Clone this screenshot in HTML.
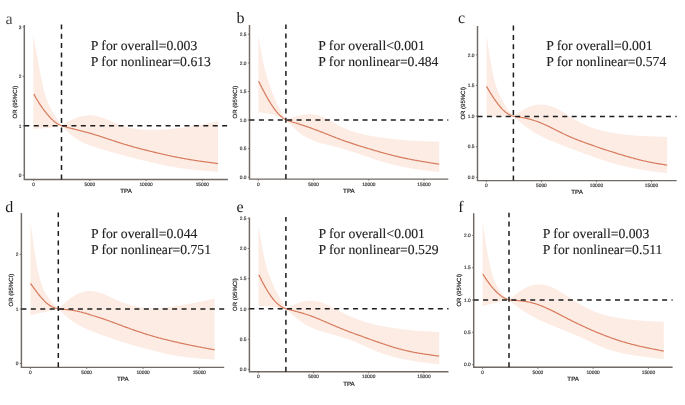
<!DOCTYPE html>
<html><head><meta charset="utf-8"><style>
html,body{margin:0;padding:0;background:#fff;}
svg{display:block;will-change:transform;}
.ser{font-family:"Liberation Serif",serif;text-rendering:geometricPrecision;}
.san{font-family:"Liberation Sans",sans-serif;text-rendering:geometricPrecision;}
</style></head><body>
<svg width="685" height="405" viewBox="0 0 685 405">
<rect width="685" height="405" fill="#fff"/>
<g>
<polygon points="33.3,34.0 34.0,38.5 34.8,42.9 35.5,47.2 36.3,51.5 37.0,55.8 37.8,59.9 38.5,64.0 39.3,68.0 40.0,71.9 40.8,75.7 41.5,79.4 42.3,82.9 43.0,86.3 43.8,89.5 44.5,92.4 45.3,95.1 46.0,97.4 46.8,99.6 47.5,101.6 48.3,103.4 49.0,105.0 49.8,106.6 50.5,108.0 51.3,109.4 52.0,110.7 52.8,112.0 53.5,113.2 54.3,114.5 55.0,115.7 55.8,116.9 56.5,118.1 57.3,119.2 58.0,120.4 58.8,121.6 59.5,122.7 60.3,123.9 61.0,125.0 61.5,125.7 62.2,125.2 63.0,124.7 63.8,124.3 64.5,123.8 65.2,123.4 66.0,123.0 66.8,122.5 67.5,122.1 68.2,121.7 69.0,121.3 69.8,120.9 70.5,120.5 71.2,120.1 72.0,119.8 72.8,119.4 73.5,119.1 74.2,118.8 75.0,118.5 75.8,118.1 76.5,117.9 77.2,117.6 78.0,117.3 78.8,117.1 79.5,116.9 80.2,116.6 81.0,116.4 81.8,116.3 82.5,116.1 83.2,115.9 84.0,115.8 84.8,115.7 85.5,115.6 86.2,115.5 87.0,115.4 87.8,115.4 88.5,115.3 89.2,115.3 90.0,115.3 90.8,115.4 91.5,115.4 92.2,115.5 93.0,115.5 93.8,115.6 94.5,115.7 95.2,115.8 96.0,116.0 96.8,116.1 97.5,116.3 98.2,116.5 99.0,116.7 99.8,116.9 100.5,117.1 101.2,117.4 102.0,117.6 102.8,117.9 103.5,118.1 104.2,118.4 105.0,118.7 105.8,119.0 106.5,119.3 107.2,119.6 108.0,119.9 108.8,120.2 109.5,120.6 110.2,120.9 111.0,121.2 111.8,121.5 112.5,121.8 113.2,122.2 114.0,122.5 114.8,122.8 115.5,123.1 116.2,123.4 117.0,123.7 117.8,124.0 118.5,124.3 119.2,124.6 120.0,124.9 120.8,125.2 121.5,125.4 122.2,125.7 123.0,125.9 123.8,126.2 124.5,126.4 125.2,126.6 126.0,126.9 126.8,127.1 127.5,127.3 128.2,127.5 129.0,127.7 129.8,127.8 130.5,128.0 131.2,128.2 132.0,128.3 132.8,128.4 133.5,128.6 134.2,128.7 135.0,128.8 135.8,128.9 136.5,129.0 137.2,129.1 138.0,129.2 138.8,129.3 139.5,129.4 140.2,129.5 141.0,129.5 141.8,129.6 142.5,129.6 143.2,129.7 144.0,129.7 144.8,129.7 145.5,129.8 146.2,129.8 147.0,129.8 147.8,129.8 148.5,129.8 149.2,129.8 150.0,129.8 150.8,129.8 151.5,129.8 152.2,129.8 153.0,129.8 153.8,129.8 154.5,129.8 155.2,129.8 156.0,129.8 156.8,129.8 157.5,129.7 158.2,129.7 159.0,129.7 159.8,129.6 160.5,129.6 161.2,129.6 162.0,129.5 162.8,129.5 163.5,129.5 164.2,129.4 165.0,129.4 165.8,129.3 166.5,129.3 167.2,129.2 168.0,129.2 168.8,129.1 169.5,129.0 170.2,129.0 171.0,128.9 171.8,128.8 172.5,128.8 173.2,128.7 174.0,128.6 174.8,128.6 175.5,128.5 176.2,128.4 177.0,128.3 177.8,128.2 178.5,128.1 179.2,128.0 180.0,128.0 180.8,127.9 181.5,127.8 182.2,127.7 183.0,127.6 183.8,127.5 184.5,127.4 185.2,127.3 186.0,127.2 186.8,127.0 187.5,126.9 188.2,126.8 189.0,126.7 189.8,126.6 190.5,126.5 191.2,126.4 192.0,126.2 192.8,126.1 193.5,126.0 194.2,125.9 195.0,125.7 195.8,125.6 196.5,125.5 197.2,125.3 198.0,125.2 198.8,125.1 199.5,124.9 200.2,124.8 201.0,124.7 201.8,124.5 202.5,124.4 203.2,124.2 204.0,124.1 204.8,123.9 205.5,123.8 206.2,123.6 207.0,123.5 207.8,123.3 208.5,123.2 209.2,123.0 210.0,122.9 210.8,122.7 211.5,122.5 212.2,122.4 213.0,122.2 213.8,122.0 214.5,121.9 215.2,121.7 216.0,121.6 216.8,121.4 217.5,121.2 218.0,121.1 218.0,171.8 217.5,171.8 216.8,171.7 216.0,171.7 215.2,171.6 214.5,171.6 213.8,171.5 213.0,171.5 212.2,171.4 211.5,171.3 210.8,171.3 210.0,171.2 209.2,171.2 208.5,171.1 207.8,171.1 207.0,171.0 206.2,171.0 205.5,170.9 204.8,170.8 204.0,170.8 203.2,170.7 202.5,170.6 201.8,170.6 201.0,170.5 200.2,170.4 199.5,170.4 198.8,170.3 198.0,170.2 197.2,170.2 196.5,170.1 195.8,170.0 195.0,169.9 194.2,169.9 193.5,169.8 192.8,169.7 192.0,169.6 191.2,169.5 190.5,169.4 189.8,169.4 189.0,169.3 188.2,169.2 187.5,169.1 186.8,169.0 186.0,168.9 185.2,168.8 184.5,168.7 183.8,168.6 183.0,168.5 182.2,168.4 181.5,168.3 180.8,168.2 180.0,168.1 179.2,167.9 178.5,167.8 177.8,167.7 177.0,167.6 176.2,167.5 175.5,167.3 174.8,167.2 174.0,167.1 173.2,167.0 172.5,166.8 171.8,166.7 171.0,166.6 170.2,166.4 169.5,166.3 168.8,166.1 168.0,166.0 167.2,165.9 166.5,165.7 165.8,165.6 165.0,165.4 164.2,165.3 163.5,165.1 162.8,164.9 162.0,164.8 161.2,164.6 160.5,164.5 159.8,164.3 159.0,164.1 158.2,164.0 157.5,163.8 156.8,163.6 156.0,163.5 155.2,163.3 154.5,163.1 153.8,162.9 153.0,162.8 152.2,162.6 151.5,162.4 150.8,162.2 150.0,162.1 149.2,161.9 148.5,161.7 147.8,161.5 147.0,161.3 146.2,161.1 145.5,161.0 144.8,160.8 144.0,160.6 143.2,160.4 142.5,160.2 141.8,160.0 141.0,159.9 140.2,159.7 139.5,159.5 138.8,159.3 138.0,159.1 137.2,158.9 136.5,158.7 135.8,158.5 135.0,158.3 134.2,158.1 133.5,158.0 132.8,157.8 132.0,157.6 131.2,157.4 130.5,157.2 129.8,157.0 129.0,156.8 128.2,156.6 127.5,156.4 126.8,156.2 126.0,156.0 125.2,155.8 124.5,155.6 123.8,155.4 123.0,155.2 122.2,155.0 121.5,154.8 120.8,154.6 120.0,154.4 119.2,154.2 118.5,154.0 117.8,153.8 117.0,153.6 116.2,153.4 115.5,153.1 114.8,152.9 114.0,152.7 113.2,152.5 112.5,152.3 111.8,152.1 111.0,151.9 110.2,151.7 109.5,151.4 108.8,151.2 108.0,151.0 107.2,150.8 106.5,150.6 105.8,150.4 105.0,150.1 104.2,149.9 103.5,149.7 102.8,149.5 102.0,149.3 101.2,149.0 100.5,148.8 99.8,148.6 99.0,148.4 98.2,148.1 97.5,147.9 96.8,147.7 96.0,147.4 95.2,147.2 94.5,147.0 93.8,146.7 93.0,146.5 92.2,146.2 91.5,146.0 90.8,145.7 90.0,145.5 89.2,145.2 88.5,144.9 87.8,144.6 87.0,144.3 86.2,144.0 85.5,143.7 84.8,143.4 84.0,143.1 83.2,142.7 82.5,142.4 81.8,142.0 81.0,141.6 80.2,141.2 79.5,140.8 78.8,140.4 78.0,139.9 77.2,139.5 76.5,139.0 75.8,138.5 75.0,138.0 74.2,137.5 73.5,136.9 72.8,136.3 72.0,135.8 71.2,135.1 70.5,134.5 69.8,133.9 69.0,133.2 68.2,132.5 67.5,131.8 66.8,131.1 66.0,130.4 65.2,129.6 64.5,128.9 63.8,128.1 63.0,127.4 62.2,126.6 61.5,125.7 61.0,125.8 60.3,126.0 59.5,126.2 58.8,126.4 58.0,126.6 57.3,126.8 56.5,126.9 55.8,127.1 55.0,127.2 54.3,127.3 53.5,127.4 52.8,127.5 52.0,127.6 51.3,127.7 50.5,127.8 49.8,127.9 49.0,128.0 48.3,128.1 47.5,128.1 46.8,128.2 46.0,128.2 45.3,128.3 44.5,128.3 43.8,128.4 43.0,128.4 42.3,128.4 41.5,128.5 40.8,128.5 40.0,128.5 39.3,128.6 38.5,128.6 37.8,128.6 37.0,128.7 36.3,128.7 35.5,128.7 34.8,128.7 34.0,128.8 33.3,128.8" fill="#fdece4"/>
<polyline points="33.8,94.1 34.5,95.4 35.3,96.7 36.0,98.0 36.8,99.2 37.5,100.5 38.3,101.7 39.0,102.9 39.8,104.1 40.5,105.2 41.3,106.3 42.0,107.4 42.8,108.5 43.5,109.5 44.3,110.5 45.0,111.5 45.8,112.4 46.5,113.4 47.3,114.3 48.0,115.1 48.8,116.0 49.5,116.8 50.3,117.7 51.0,118.5 51.8,119.2 52.5,119.9 53.3,120.6 54.0,121.3 54.8,121.9 55.5,122.5 56.3,123.0 57.0,123.5 57.8,123.9 58.5,124.3 59.3,124.7 60.0,125.0 60.8,125.3 61.5,125.6 62.2,125.9 63.0,126.1 63.8,126.3 64.5,126.5 65.2,126.7 66.0,126.9 66.8,127.2 67.5,127.4 68.2,127.6 69.0,127.8 69.8,128.0 70.5,128.2 71.2,128.4 72.0,128.6 72.8,128.7 73.5,128.9 74.2,129.1 75.0,129.3 75.8,129.5 76.5,129.7 77.2,129.9 78.0,130.1 78.8,130.3 79.5,130.5 80.2,130.7 81.0,130.8 81.8,131.0 82.5,131.2 83.2,131.4 84.0,131.6 84.8,131.8 85.5,132.0 86.2,132.2 87.0,132.4 87.8,132.6 88.5,132.8 89.2,133.0 90.0,133.2 90.8,133.4 91.5,133.7 92.2,133.9 93.0,134.1 93.8,134.3 94.5,134.6 95.2,134.8 96.0,135.0 96.8,135.3 97.5,135.5 98.2,135.7 99.0,136.0 99.8,136.2 100.5,136.5 101.2,136.7 102.0,137.0 102.8,137.2 103.5,137.5 104.2,137.7 105.0,138.0 105.8,138.2 106.5,138.5 107.2,138.7 108.0,139.0 108.8,139.2 109.5,139.5 110.2,139.7 111.0,140.0 111.8,140.2 112.5,140.5 113.2,140.7 114.0,140.9 114.8,141.2 115.5,141.4 116.2,141.7 117.0,141.9 117.8,142.2 118.5,142.4 119.2,142.6 120.0,142.9 120.8,143.1 121.5,143.3 122.2,143.6 123.0,143.8 123.8,144.0 124.5,144.3 125.2,144.5 126.0,144.7 126.8,144.9 127.5,145.2 128.2,145.4 129.0,145.6 129.8,145.8 130.5,146.0 131.2,146.2 132.0,146.5 132.8,146.7 133.5,146.9 134.2,147.1 135.0,147.3 135.8,147.5 136.5,147.7 137.2,147.9 138.0,148.1 138.8,148.3 139.5,148.5 140.2,148.7 141.0,148.9 141.8,149.1 142.5,149.3 143.2,149.5 144.0,149.7 144.8,149.9 145.5,150.1 146.2,150.2 147.0,150.4 147.8,150.6 148.5,150.8 149.2,151.0 150.0,151.2 150.8,151.3 151.5,151.5 152.2,151.7 153.0,151.9 153.8,152.1 154.5,152.3 155.2,152.4 156.0,152.6 156.8,152.8 157.5,153.0 158.2,153.1 159.0,153.3 159.8,153.5 160.5,153.7 161.2,153.8 162.0,154.0 162.8,154.2 163.5,154.4 164.2,154.5 165.0,154.7 165.8,154.9 166.5,155.0 167.2,155.2 168.0,155.4 168.8,155.5 169.5,155.7 170.2,155.8 171.0,156.0 171.8,156.2 172.5,156.3 173.2,156.5 174.0,156.6 174.8,156.8 175.5,156.9 176.2,157.1 177.0,157.2 177.8,157.4 178.5,157.5 179.2,157.7 180.0,157.8 180.8,157.9 181.5,158.1 182.2,158.2 183.0,158.4 183.8,158.5 184.5,158.6 185.2,158.8 186.0,158.9 186.8,159.0 187.5,159.2 188.2,159.3 189.0,159.4 189.8,159.6 190.5,159.7 191.2,159.8 192.0,159.9 192.8,160.0 193.5,160.2 194.2,160.3 195.0,160.4 195.8,160.5 196.5,160.6 197.2,160.7 198.0,160.9 198.8,161.0 199.5,161.1 200.2,161.2 201.0,161.3 201.8,161.4 202.5,161.5 203.2,161.6 204.0,161.7 204.8,161.8 205.5,161.9 206.2,162.0 207.0,162.1 207.8,162.2 208.5,162.3 209.2,162.4 210.0,162.5 210.8,162.6 211.5,162.7 212.2,162.8 213.0,162.9 213.8,163.0 214.5,163.1 215.2,163.2 216.0,163.3 216.8,163.4 217.5,163.5 218.0,163.6" fill="none" stroke="#d77c5e" stroke-width="1.25" stroke-linejoin="round"/>
<path d="M24.3,25.0 V179.4 H227.9" fill="none" stroke="#706a66" stroke-width="1.45"/>
<line x1="22.7" y1="175.2" x2="24.3" y2="175.2" stroke="#706a66" stroke-width="0.9"/>
<text class="san" transform="translate(21.30,176.90) scale(0.25)" text-anchor="end" font-size="19.2" fill="#3a3a3a" stroke="#3a3a3a" stroke-width="0.7">0</text>
<line x1="22.7" y1="125.8" x2="24.3" y2="125.8" stroke="#706a66" stroke-width="0.9"/>
<text class="san" transform="translate(21.30,127.50) scale(0.25)" text-anchor="end" font-size="19.2" fill="#3a3a3a" stroke="#3a3a3a" stroke-width="0.7">1</text>
<line x1="22.7" y1="76.4" x2="24.3" y2="76.4" stroke="#706a66" stroke-width="0.9"/>
<text class="san" transform="translate(21.30,78.10) scale(0.25)" text-anchor="end" font-size="19.2" fill="#3a3a3a" stroke="#3a3a3a" stroke-width="0.7">2</text>
<line x1="22.7" y1="27.0" x2="24.3" y2="27.0" stroke="#706a66" stroke-width="0.9"/>
<text class="san" transform="translate(21.30,28.70) scale(0.25)" text-anchor="end" font-size="19.2" fill="#3a3a3a" stroke="#3a3a3a" stroke-width="0.7">3</text>
<line x1="33.6" y1="179.4" x2="33.6" y2="181.0" stroke="#706a66" stroke-width="0.9"/>
<text class="san" transform="translate(33.60,185.80) scale(0.25)" text-anchor="middle" font-size="19.2" fill="#3a3a3a" stroke="#3a3a3a" stroke-width="0.7">0</text>
<line x1="89.85" y1="179.4" x2="89.85" y2="181.0" stroke="#706a66" stroke-width="0.9"/>
<text class="san" transform="translate(89.85,185.80) scale(0.25)" text-anchor="middle" font-size="19.2" fill="#3a3a3a" stroke="#3a3a3a" stroke-width="0.7">5000</text>
<line x1="146.1" y1="179.4" x2="146.1" y2="181.0" stroke="#706a66" stroke-width="0.9"/>
<text class="san" transform="translate(146.10,185.80) scale(0.25)" text-anchor="middle" font-size="19.2" fill="#3a3a3a" stroke="#3a3a3a" stroke-width="0.7">10000</text>
<line x1="202.35" y1="179.4" x2="202.35" y2="181.0" stroke="#706a66" stroke-width="0.9"/>
<text class="san" transform="translate(202.35,185.80) scale(0.25)" text-anchor="middle" font-size="19.2" fill="#3a3a3a" stroke="#3a3a3a" stroke-width="0.7">15000</text>
<line x1="24.3" y1="125.7" x2="227.9" y2="125.7" stroke="#1c1c1c" stroke-width="1.5" stroke-dasharray="5.0 4.42"/>
<line x1="61.5" y1="179.4" x2="61.5" y2="24.5" stroke="#1c1c1c" stroke-width="1.5" stroke-dasharray="5.0 4.38"/>
<text class="san" x="126.10" y="193.2" text-anchor="middle" font-size="6.2" fill="#1a1a1a" stroke="#1a1a1a" stroke-width="0.2">TPA</text>
<text class="san" transform="translate(17.1,102.20) rotate(-90)" text-anchor="middle" font-size="6.0" fill="#1a1a1a" stroke="#1a1a1a" stroke-width="0.15">OR (95%CI)</text>
<text class="ser" x="5.5" y="24.4" font-size="16" fill="#505050">a</text>
<text class="ser" x="90.8" y="49.6" font-size="13.7" fill="#222" stroke="#222" stroke-width="0.12">P for overall=0.003</text>
<text class="ser" x="90.8" y="65.9" font-size="13.7" fill="#222" stroke="#222" stroke-width="0.12">P for nonlinear=0.613</text>
<polygon points="258.4,35.4 259.1,40.0 259.9,44.6 260.6,49.1 261.4,53.3 262.1,57.2 262.9,60.9 263.6,64.2 264.4,67.4 265.1,70.3 265.9,73.1 266.6,75.7 267.4,78.2 268.1,80.6 268.9,82.9 269.6,85.1 270.4,87.3 271.1,89.4 271.9,91.4 272.6,93.4 273.4,95.3 274.1,97.1 274.9,98.9 275.6,100.7 276.4,102.4 277.1,104.0 277.9,105.6 278.6,107.1 279.4,108.6 280.1,110.0 280.9,111.4 281.6,112.8 282.4,114.1 283.1,115.4 283.9,116.6 284.6,117.9 285.4,119.1 285.9,119.9 286.6,119.6 287.4,119.3 288.1,119.0 288.9,118.7 289.6,118.4 290.4,118.1 291.1,117.9 291.9,117.6 292.6,117.3 293.4,117.1 294.1,116.8 294.9,116.6 295.6,116.4 296.4,116.1 297.1,115.9 297.9,115.7 298.6,115.6 299.4,115.4 300.1,115.2 300.9,115.1 301.6,114.9 302.4,114.8 303.1,114.7 303.9,114.6 304.6,114.5 305.4,114.4 306.1,114.3 306.9,114.3 307.6,114.3 308.4,114.2 309.1,114.2 309.9,114.2 310.6,114.2 311.4,114.3 312.1,114.3 312.9,114.4 313.6,114.5 314.4,114.6 315.1,114.7 315.9,114.9 316.6,115.0 317.4,115.2 318.1,115.4 318.9,115.6 319.6,115.8 320.4,116.1 321.1,116.3 321.9,116.6 322.6,116.9 323.4,117.2 324.1,117.5 324.9,117.9 325.6,118.2 326.4,118.6 327.1,119.0 327.9,119.4 328.6,119.8 329.4,120.2 330.1,120.6 330.9,121.0 331.6,121.4 332.4,121.8 333.1,122.3 333.9,122.7 334.6,123.1 335.4,123.5 336.1,124.0 336.9,124.4 337.6,124.8 338.4,125.2 339.1,125.6 339.9,126.0 340.6,126.4 341.4,126.8 342.1,127.1 342.9,127.5 343.6,127.9 344.4,128.2 345.1,128.6 345.9,128.9 346.6,129.2 347.4,129.5 348.1,129.8 348.9,130.1 349.6,130.4 350.4,130.7 351.1,130.9 351.9,131.2 352.6,131.5 353.4,131.7 354.1,131.9 354.9,132.2 355.6,132.4 356.4,132.6 357.1,132.8 357.9,133.0 358.6,133.2 359.4,133.4 360.1,133.6 360.9,133.8 361.6,134.0 362.4,134.1 363.1,134.3 363.9,134.5 364.6,134.6 365.4,134.8 366.1,134.9 366.9,135.1 367.6,135.2 368.4,135.4 369.1,135.5 369.9,135.7 370.6,135.8 371.4,135.9 372.1,136.1 372.9,136.2 373.6,136.3 374.4,136.4 375.1,136.6 375.9,136.7 376.6,136.8 377.4,136.9 378.1,137.0 378.9,137.1 379.6,137.3 380.4,137.4 381.1,137.5 381.9,137.6 382.6,137.7 383.4,137.8 384.1,137.9 384.9,138.0 385.6,138.1 386.4,138.2 387.1,138.3 387.9,138.4 388.6,138.5 389.4,138.5 390.1,138.6 390.9,138.7 391.6,138.8 392.4,138.9 393.1,139.0 393.9,139.1 394.6,139.1 395.4,139.2 396.1,139.3 396.9,139.4 397.6,139.5 398.4,139.5 399.1,139.6 399.9,139.7 400.6,139.7 401.4,139.8 402.1,139.9 402.9,139.9 403.6,140.0 404.4,140.1 405.1,140.1 405.9,140.2 406.6,140.3 407.4,140.3 408.1,140.4 408.9,140.4 409.6,140.5 410.4,140.5 411.1,140.6 411.9,140.6 412.6,140.7 413.4,140.7 414.1,140.8 414.9,140.8 415.6,140.8 416.4,140.9 417.1,140.9 417.9,141.0 418.6,141.0 419.4,141.0 420.1,141.1 420.9,141.1 421.6,141.1 422.4,141.2 423.1,141.2 423.9,141.2 424.6,141.3 425.4,141.3 426.1,141.3 426.9,141.3 427.6,141.4 428.4,141.4 429.1,141.4 429.9,141.4 430.6,141.5 431.4,141.5 432.1,141.5 432.9,141.5 433.6,141.6 434.4,141.6 435.1,141.6 435.9,141.6 436.6,141.6 437.4,141.7 438.1,141.7 438.9,141.7 439.2,141.7 439.2,172.1 438.9,172.1 438.1,172.0 437.4,171.9 436.6,171.8 435.9,171.7 435.1,171.6 434.4,171.6 433.6,171.5 432.9,171.4 432.1,171.3 431.4,171.2 430.6,171.1 429.9,171.0 429.1,170.9 428.4,170.8 427.6,170.7 426.9,170.6 426.1,170.6 425.4,170.5 424.6,170.4 423.9,170.3 423.1,170.2 422.4,170.1 421.6,170.0 420.9,169.9 420.1,169.7 419.4,169.6 418.6,169.5 417.9,169.4 417.1,169.3 416.4,169.2 415.6,169.1 414.9,169.0 414.1,168.9 413.4,168.7 412.6,168.6 411.9,168.5 411.1,168.4 410.4,168.2 409.6,168.1 408.9,168.0 408.1,167.9 407.4,167.7 406.6,167.6 405.9,167.4 405.1,167.3 404.4,167.2 403.6,167.0 402.9,166.9 402.1,166.7 401.4,166.6 400.6,166.4 399.9,166.3 399.1,166.1 398.4,165.9 397.6,165.8 396.9,165.6 396.1,165.4 395.4,165.2 394.6,165.1 393.9,164.9 393.1,164.7 392.4,164.5 391.6,164.3 390.9,164.1 390.1,163.9 389.4,163.7 388.6,163.5 387.9,163.3 387.1,163.1 386.4,162.9 385.6,162.7 384.9,162.5 384.1,162.3 383.4,162.0 382.6,161.8 381.9,161.6 381.1,161.4 380.4,161.1 379.6,160.9 378.9,160.7 378.1,160.4 377.4,160.2 376.6,159.9 375.9,159.7 375.1,159.4 374.4,159.2 373.6,158.9 372.9,158.7 372.1,158.4 371.4,158.2 370.6,157.9 369.9,157.7 369.1,157.4 368.4,157.1 367.6,156.9 366.9,156.6 366.1,156.4 365.4,156.1 364.6,155.8 363.9,155.6 363.1,155.3 362.4,155.1 361.6,154.8 360.9,154.6 360.1,154.3 359.4,154.1 358.6,153.8 357.9,153.6 357.1,153.3 356.4,153.1 355.6,152.8 354.9,152.6 354.1,152.3 353.4,152.1 352.6,151.9 351.9,151.6 351.1,151.4 350.4,151.2 349.6,150.9 348.9,150.7 348.1,150.4 347.4,150.2 346.6,150.0 345.9,149.7 345.1,149.5 344.4,149.3 343.6,149.1 342.9,148.8 342.1,148.6 341.4,148.4 340.6,148.2 339.9,148.0 339.1,147.8 338.4,147.6 337.6,147.3 336.9,147.1 336.1,146.9 335.4,146.8 334.6,146.6 333.9,146.4 333.1,146.2 332.4,146.0 331.6,145.8 330.9,145.6 330.1,145.4 329.4,145.2 328.6,145.1 327.9,144.9 327.1,144.7 326.4,144.5 325.6,144.3 324.9,144.1 324.1,144.0 323.4,143.8 322.6,143.6 321.9,143.4 321.1,143.2 320.4,142.9 319.6,142.7 318.9,142.5 318.1,142.3 317.4,142.0 316.6,141.8 315.9,141.5 315.1,141.3 314.4,141.0 313.6,140.7 312.9,140.4 312.1,140.1 311.4,139.8 310.6,139.5 309.9,139.1 309.1,138.8 308.4,138.4 307.6,138.0 306.9,137.6 306.1,137.2 305.4,136.8 304.6,136.3 303.9,135.9 303.1,135.4 302.4,134.9 301.6,134.3 300.9,133.8 300.1,133.3 299.4,132.7 298.6,132.1 297.9,131.5 297.1,130.9 296.4,130.2 295.6,129.6 294.9,128.9 294.1,128.2 293.4,127.5 292.6,126.8 291.9,126.1 291.1,125.3 290.4,124.6 289.6,123.8 288.9,123.1 288.1,122.3 287.4,121.5 286.6,120.8 285.9,119.9 285.4,119.7 284.6,119.3 283.9,118.9 283.1,118.6 282.4,118.2 281.6,117.9 280.9,117.5 280.1,117.2 279.4,116.9 278.6,116.6 277.9,116.3 277.1,116.0 276.4,115.7 275.6,115.5 274.9,115.2 274.1,115.0 273.4,114.8 272.6,114.6 271.9,114.4 271.1,114.2 270.4,114.0 269.6,113.9 268.9,113.7 268.1,113.6 267.4,113.5 266.6,113.3 265.9,113.2 265.1,113.1 264.4,113.0 263.6,112.9 262.9,112.8 262.1,112.7 261.4,112.6 260.6,112.5 259.9,112.4 259.1,112.3 258.4,112.2" fill="#fdece4"/>
<polyline points="258.6,81.3 259.4,82.8 260.1,84.3 260.9,85.8 261.6,87.2 262.4,88.7 263.1,90.1 263.9,91.5 264.6,92.9 265.4,94.3 266.1,95.7 266.9,97.0 267.6,98.3 268.4,99.6 269.1,100.9 269.9,102.1 270.6,103.3 271.4,104.5 272.1,105.6 272.9,106.7 273.6,107.8 274.4,108.9 275.1,109.9 275.9,110.9 276.6,111.8 277.4,112.7 278.1,113.6 278.9,114.4 279.6,115.1 280.4,115.8 281.1,116.5 281.9,117.1 282.6,117.7 283.4,118.3 284.1,118.7 284.9,119.2 285.6,119.5 285.9,119.7 286.6,120.0 287.4,120.3 288.1,120.6 288.9,120.8 289.6,121.1 290.4,121.3 291.1,121.5 291.9,121.8 292.6,122.0 293.4,122.3 294.1,122.5 294.9,122.7 295.6,123.0 296.4,123.2 297.1,123.4 297.9,123.7 298.6,123.9 299.4,124.1 300.1,124.4 300.9,124.6 301.6,124.9 302.4,125.1 303.1,125.4 303.9,125.6 304.6,125.9 305.4,126.1 306.1,126.4 306.9,126.6 307.6,126.9 308.4,127.1 309.1,127.4 309.9,127.7 310.6,127.9 311.4,128.2 312.1,128.5 312.9,128.7 313.6,129.0 314.4,129.3 315.1,129.6 315.9,129.8 316.6,130.1 317.4,130.4 318.1,130.7 318.9,131.0 319.6,131.3 320.4,131.6 321.1,131.9 321.9,132.1 322.6,132.4 323.4,132.7 324.1,133.0 324.9,133.3 325.6,133.6 326.4,133.9 327.1,134.2 327.9,134.5 328.6,134.8 329.4,135.1 330.1,135.4 330.9,135.7 331.6,136.0 332.4,136.3 333.1,136.6 333.9,136.9 334.6,137.2 335.4,137.5 336.1,137.8 336.9,138.0 337.6,138.3 338.4,138.6 339.1,138.9 339.9,139.2 340.6,139.5 341.4,139.8 342.1,140.0 342.9,140.3 343.6,140.6 344.4,140.8 345.1,141.1 345.9,141.4 346.6,141.6 347.4,141.9 348.1,142.2 348.9,142.4 349.6,142.7 350.4,142.9 351.1,143.2 351.9,143.4 352.6,143.7 353.4,143.9 354.1,144.2 354.9,144.4 355.6,144.6 356.4,144.9 357.1,145.1 357.9,145.4 358.6,145.6 359.4,145.8 360.1,146.0 360.9,146.3 361.6,146.5 362.4,146.7 363.1,147.0 363.9,147.2 364.6,147.4 365.4,147.6 366.1,147.9 366.9,148.1 367.6,148.3 368.4,148.5 369.1,148.8 369.9,149.0 370.6,149.2 371.4,149.4 372.1,149.7 372.9,149.9 373.6,150.1 374.4,150.3 375.1,150.6 375.9,150.8 376.6,151.0 377.4,151.2 378.1,151.4 378.9,151.6 379.6,151.9 380.4,152.1 381.1,152.3 381.9,152.5 382.6,152.7 383.4,152.9 384.1,153.1 384.9,153.3 385.6,153.5 386.4,153.7 387.1,154.0 387.9,154.2 388.6,154.3 389.4,154.5 390.1,154.7 390.9,154.9 391.6,155.1 392.4,155.3 393.1,155.5 393.9,155.7 394.6,155.9 395.4,156.1 396.1,156.2 396.9,156.4 397.6,156.6 398.4,156.8 399.1,156.9 399.9,157.1 400.6,157.3 401.4,157.4 402.1,157.6 402.9,157.8 403.6,157.9 404.4,158.1 405.1,158.3 405.9,158.4 406.6,158.6 407.4,158.7 408.1,158.9 408.9,159.0 409.6,159.2 410.4,159.3 411.1,159.5 411.9,159.6 412.6,159.8 413.4,159.9 414.1,160.0 414.9,160.2 415.6,160.3 416.4,160.4 417.1,160.6 417.9,160.7 418.6,160.8 419.4,161.0 420.1,161.1 420.9,161.2 421.6,161.4 422.4,161.5 423.1,161.6 423.9,161.7 424.6,161.9 425.4,162.0 426.1,162.1 426.9,162.2 427.6,162.4 428.4,162.5 429.1,162.6 429.9,162.7 430.6,162.9 431.4,163.0 432.1,163.1 432.9,163.2 433.6,163.3 434.4,163.4 435.1,163.6 435.9,163.7 436.6,163.8 437.4,163.9 438.1,164.0 438.9,164.2 439.2,164.2" fill="none" stroke="#d77c5e" stroke-width="1.25" stroke-linejoin="round"/>
<path d="M249.5,25.1 V179.1 H448.3" fill="none" stroke="#706a66" stroke-width="1.45"/>
<line x1="247.9" y1="177.2" x2="249.5" y2="177.2" stroke="#706a66" stroke-width="0.9"/>
<text class="san" transform="translate(246.50,178.90) scale(0.25)" text-anchor="end" font-size="19.2" fill="#3a3a3a" stroke="#3a3a3a" stroke-width="0.7">0.0</text>
<line x1="247.9" y1="148.6" x2="249.5" y2="148.6" stroke="#706a66" stroke-width="0.9"/>
<text class="san" transform="translate(246.50,150.30) scale(0.25)" text-anchor="end" font-size="19.2" fill="#3a3a3a" stroke="#3a3a3a" stroke-width="0.7">0.5</text>
<line x1="247.9" y1="120.0" x2="249.5" y2="120.0" stroke="#706a66" stroke-width="0.9"/>
<text class="san" transform="translate(246.50,121.70) scale(0.25)" text-anchor="end" font-size="19.2" fill="#3a3a3a" stroke="#3a3a3a" stroke-width="0.7">1.0</text>
<line x1="247.9" y1="91.5" x2="249.5" y2="91.5" stroke="#706a66" stroke-width="0.9"/>
<text class="san" transform="translate(246.50,93.20) scale(0.25)" text-anchor="end" font-size="19.2" fill="#3a3a3a" stroke="#3a3a3a" stroke-width="0.7">1.5</text>
<line x1="247.9" y1="62.9" x2="249.5" y2="62.9" stroke="#706a66" stroke-width="0.9"/>
<text class="san" transform="translate(246.50,64.60) scale(0.25)" text-anchor="end" font-size="19.2" fill="#3a3a3a" stroke="#3a3a3a" stroke-width="0.7">2.0</text>
<line x1="247.9" y1="34.3" x2="249.5" y2="34.3" stroke="#706a66" stroke-width="0.9"/>
<text class="san" transform="translate(246.50,36.00) scale(0.25)" text-anchor="end" font-size="19.2" fill="#3a3a3a" stroke="#3a3a3a" stroke-width="0.7">2.5</text>
<line x1="258.3" y1="179.1" x2="258.3" y2="180.7" stroke="#706a66" stroke-width="0.9"/>
<text class="san" transform="translate(258.30,185.50) scale(0.25)" text-anchor="middle" font-size="19.2" fill="#3a3a3a" stroke="#3a3a3a" stroke-width="0.7">0</text>
<line x1="313.5" y1="179.1" x2="313.5" y2="180.7" stroke="#706a66" stroke-width="0.9"/>
<text class="san" transform="translate(313.50,185.50) scale(0.25)" text-anchor="middle" font-size="19.2" fill="#3a3a3a" stroke="#3a3a3a" stroke-width="0.7">5000</text>
<line x1="368.8" y1="179.1" x2="368.8" y2="180.7" stroke="#706a66" stroke-width="0.9"/>
<text class="san" transform="translate(368.80,185.50) scale(0.25)" text-anchor="middle" font-size="19.2" fill="#3a3a3a" stroke="#3a3a3a" stroke-width="0.7">10000</text>
<line x1="424.0" y1="179.1" x2="424.0" y2="180.7" stroke="#706a66" stroke-width="0.9"/>
<text class="san" transform="translate(424.00,185.50) scale(0.25)" text-anchor="middle" font-size="19.2" fill="#3a3a3a" stroke="#3a3a3a" stroke-width="0.7">15000</text>
<line x1="249.5" y1="119.9" x2="448.3" y2="119.9" stroke="#1c1c1c" stroke-width="1.5" stroke-dasharray="5.0 4.42"/>
<line x1="285.9" y1="179.1" x2="285.9" y2="24.6" stroke="#1c1c1c" stroke-width="1.5" stroke-dasharray="5.0 4.38"/>
<text class="san" x="348.90" y="192.8" text-anchor="middle" font-size="6.2" fill="#1a1a1a" stroke="#1a1a1a" stroke-width="0.2">TPA</text>
<text class="san" transform="translate(236.5,102.10) rotate(-90)" text-anchor="middle" font-size="6.0" fill="#1a1a1a" stroke="#1a1a1a" stroke-width="0.15">OR (95%CI)</text>
<text class="ser" x="236.5" y="22.8" font-size="16" fill="#1a1a1a">b</text>
<text class="ser" x="318.3" y="49.6" font-size="13.7" fill="#222" stroke="#222" stroke-width="0.12">P for overall&lt;0.001</text>
<text class="ser" x="318.3" y="65.9" font-size="13.7" fill="#222" stroke="#222" stroke-width="0.12">P for nonlinear=0.484</text>
<polygon points="486.6,35.3 487.4,40.5 488.1,45.5 488.9,50.5 489.6,55.3 490.4,59.9 491.1,64.3 491.9,68.4 492.6,72.2 493.4,75.7 494.1,78.9 494.9,81.8 495.6,84.4 496.4,86.8 497.1,89.0 497.9,91.0 498.6,92.8 499.4,94.5 500.1,96.1 500.9,97.6 501.6,99.1 502.4,100.5 503.1,101.9 503.9,103.2 504.6,104.5 505.4,105.7 506.1,106.9 506.9,108.1 507.6,109.2 508.4,110.3 509.1,111.3 509.9,112.3 510.6,113.2 511.4,114.1 512.1,115.0 512.9,115.8 513.4,116.4 514.1,115.8 514.9,115.3 515.6,114.7 516.4,114.2 517.1,113.7 517.9,113.2 518.6,112.7 519.4,112.2 520.1,111.7 520.9,111.2 521.6,110.7 522.4,110.2 523.1,109.8 523.9,109.4 524.6,109.0 525.4,108.6 526.1,108.2 526.9,107.8 527.6,107.5 528.4,107.2 529.1,106.9 529.9,106.6 530.6,106.3 531.4,106.1 532.1,105.8 532.9,105.6 533.6,105.4 534.4,105.3 535.1,105.1 535.9,105.0 536.6,104.9 537.4,104.8 538.1,104.7 538.9,104.7 539.6,104.6 540.4,104.6 541.1,104.6 541.9,104.7 542.6,104.7 543.4,104.8 544.1,104.8 544.9,104.9 545.6,105.0 546.4,105.2 547.1,105.3 547.9,105.5 548.6,105.7 549.4,105.9 550.1,106.1 550.9,106.3 551.6,106.6 552.4,106.8 553.1,107.1 553.9,107.4 554.6,107.7 555.4,108.0 556.1,108.4 556.9,108.7 557.6,109.1 558.4,109.5 559.1,109.9 559.9,110.3 560.6,110.7 561.4,111.1 562.1,111.5 562.9,112.0 563.6,112.4 564.4,112.9 565.1,113.3 565.9,113.8 566.6,114.2 567.4,114.7 568.1,115.2 568.9,115.7 569.6,116.1 570.4,116.6 571.1,117.1 571.9,117.5 572.6,118.0 573.4,118.5 574.1,118.9 574.9,119.4 575.6,119.8 576.4,120.3 577.1,120.7 577.9,121.1 578.6,121.6 579.4,122.0 580.1,122.4 580.9,122.8 581.6,123.2 582.4,123.6 583.1,123.9 583.9,124.3 584.6,124.7 585.4,125.0 586.1,125.3 586.9,125.7 587.6,126.0 588.4,126.3 589.1,126.6 589.9,126.9 590.6,127.2 591.4,127.4 592.1,127.7 592.9,128.0 593.6,128.2 594.4,128.5 595.1,128.7 595.9,128.9 596.6,129.2 597.4,129.4 598.1,129.6 598.9,129.8 599.6,130.0 600.4,130.2 601.1,130.4 601.9,130.6 602.6,130.8 603.4,131.0 604.1,131.1 604.9,131.3 605.6,131.5 606.4,131.6 607.1,131.8 607.9,132.0 608.6,132.1 609.4,132.3 610.1,132.4 610.9,132.5 611.6,132.7 612.4,132.8 613.1,132.9 613.9,133.1 614.6,133.2 615.4,133.3 616.1,133.4 616.9,133.5 617.6,133.6 618.4,133.8 619.1,133.9 619.9,134.0 620.6,134.1 621.4,134.2 622.1,134.3 622.9,134.3 623.6,134.4 624.4,134.5 625.1,134.6 625.9,134.7 626.6,134.8 627.4,134.9 628.1,134.9 628.9,135.0 629.6,135.1 630.4,135.1 631.1,135.2 631.9,135.3 632.6,135.3 633.4,135.4 634.1,135.5 634.9,135.5 635.6,135.6 636.4,135.6 637.1,135.7 637.9,135.7 638.6,135.8 639.4,135.8 640.1,135.9 640.9,135.9 641.6,136.0 642.4,136.0 643.1,136.0 643.9,136.1 644.6,136.1 645.4,136.2 646.1,136.2 646.9,136.2 647.6,136.3 648.4,136.3 649.1,136.3 649.9,136.4 650.6,136.4 651.4,136.4 652.1,136.5 652.9,136.5 653.6,136.5 654.4,136.6 655.1,136.6 655.9,136.6 656.6,136.6 657.4,136.7 658.1,136.7 658.9,136.7 659.6,136.7 660.4,136.8 661.1,136.8 661.9,136.8 662.6,136.8 663.4,136.9 664.1,136.9 664.9,136.9 665.6,136.9 666.4,137.0 667.1,137.0 667.2,137.0 667.2,173.3 667.1,173.3 666.4,173.2 665.6,173.1 664.9,173.0 664.1,172.9 663.4,172.8 662.6,172.7 661.9,172.6 661.1,172.5 660.4,172.4 659.6,172.3 658.9,172.2 658.1,172.1 657.4,172.0 656.6,171.9 655.9,171.8 655.1,171.7 654.4,171.6 653.6,171.5 652.9,171.4 652.1,171.3 651.4,171.2 650.6,171.1 649.9,171.0 649.1,170.9 648.4,170.8 647.6,170.7 646.9,170.6 646.1,170.5 645.4,170.3 644.6,170.2 643.9,170.1 643.1,170.0 642.4,169.9 641.6,169.7 640.9,169.6 640.1,169.5 639.4,169.4 638.6,169.2 637.9,169.1 637.1,168.9 636.4,168.8 635.6,168.7 634.9,168.5 634.1,168.4 633.4,168.2 632.6,168.1 631.9,167.9 631.1,167.8 630.4,167.6 629.6,167.4 628.9,167.3 628.1,167.1 627.4,166.9 626.6,166.8 625.9,166.6 625.1,166.4 624.4,166.2 623.6,166.1 622.9,165.9 622.1,165.7 621.4,165.5 620.6,165.3 619.9,165.1 619.1,164.9 618.4,164.7 617.6,164.5 616.9,164.3 616.1,164.1 615.4,163.9 614.6,163.7 613.9,163.5 613.1,163.3 612.4,163.1 611.6,162.9 610.9,162.6 610.1,162.4 609.4,162.2 608.6,162.0 607.9,161.7 607.1,161.5 606.4,161.3 605.6,161.0 604.9,160.8 604.1,160.6 603.4,160.3 602.6,160.1 601.9,159.8 601.1,159.6 600.4,159.3 599.6,159.1 598.9,158.8 598.1,158.5 597.4,158.3 596.6,158.0 595.9,157.8 595.1,157.5 594.4,157.2 593.6,156.9 592.9,156.7 592.1,156.4 591.4,156.1 590.6,155.8 589.9,155.6 589.1,155.3 588.4,155.0 587.6,154.7 586.9,154.5 586.1,154.2 585.4,153.9 584.6,153.6 583.9,153.4 583.1,153.1 582.4,152.8 581.6,152.6 580.9,152.3 580.1,152.0 579.4,151.7 578.6,151.5 577.9,151.2 577.1,150.9 576.4,150.6 575.6,150.4 574.9,150.1 574.1,149.8 573.4,149.5 572.6,149.3 571.9,149.0 571.1,148.7 570.4,148.4 569.6,148.1 568.9,147.9 568.1,147.6 567.4,147.3 566.6,147.0 565.9,146.7 565.1,146.4 564.4,146.1 563.6,145.9 562.9,145.6 562.1,145.3 561.4,145.0 560.6,144.7 559.9,144.4 559.1,144.1 558.4,143.8 557.6,143.5 556.9,143.2 556.1,142.9 555.4,142.6 554.6,142.3 553.9,142.0 553.1,141.6 552.4,141.3 551.6,141.0 550.9,140.7 550.1,140.4 549.4,140.0 548.6,139.7 547.9,139.4 547.1,139.0 546.4,138.7 545.6,138.4 544.9,138.0 544.1,137.7 543.4,137.3 542.6,136.9 541.9,136.6 541.1,136.2 540.4,135.8 539.6,135.4 538.9,135.0 538.1,134.6 537.4,134.2 536.6,133.8 535.9,133.4 535.1,133.0 534.4,132.5 533.6,132.1 532.9,131.6 532.1,131.1 531.4,130.6 530.6,130.1 529.9,129.6 529.1,129.1 528.4,128.6 527.6,128.1 526.9,127.5 526.1,127.0 525.4,126.4 524.6,125.9 523.9,125.3 523.1,124.7 522.4,124.1 521.6,123.5 520.9,122.9 520.1,122.2 519.4,121.6 518.6,121.0 517.9,120.3 517.1,119.7 516.4,119.1 515.6,118.4 514.9,117.8 514.1,117.1 513.4,116.4 512.9,116.4 512.1,116.5 511.4,116.5 510.6,116.5 509.9,116.6 509.1,116.6 508.4,116.6 507.6,116.6 506.9,116.7 506.1,116.7 505.4,116.7 504.6,116.7 503.9,116.8 503.1,116.8 502.4,116.8 501.6,116.8 500.9,116.8 500.1,116.8 499.4,116.8 498.6,116.8 497.9,116.8 497.1,116.8 496.4,116.8 495.6,116.8 494.9,116.8 494.1,116.8 493.4,116.8 492.6,116.8 491.9,116.8 491.1,116.8 490.4,116.8 489.6,116.8 488.9,116.8 488.1,116.8 487.4,116.8 486.6,116.8" fill="#fdece4"/>
<polyline points="486.5,86.4 487.2,87.7 488.0,88.9 488.8,90.1 489.5,91.4 490.2,92.6 491.0,93.8 491.8,95.0 492.5,96.2 493.2,97.3 494.0,98.5 494.8,99.6 495.5,100.7 496.2,101.7 497.0,102.7 497.8,103.8 498.5,104.7 499.2,105.7 500.0,106.6 500.8,107.5 501.5,108.3 502.2,109.1 503.0,109.9 503.8,110.6 504.5,111.2 505.2,111.9 506.0,112.5 506.8,113.0 507.5,113.5 508.2,114.0 509.0,114.4 509.8,114.8 510.5,115.1 511.2,115.5 512.0,115.8 512.8,116.0 513.4,116.2 514.1,116.4 514.9,116.5 515.6,116.6 516.4,116.7 517.1,116.8 517.9,116.9 518.6,117.0 519.4,117.1 520.1,117.3 520.9,117.4 521.6,117.5 522.4,117.6 523.1,117.7 523.9,117.9 524.6,118.0 525.4,118.2 526.1,118.3 526.9,118.5 527.6,118.6 528.4,118.8 529.1,119.0 529.9,119.2 530.6,119.4 531.4,119.6 532.1,119.8 532.9,120.0 533.6,120.3 534.4,120.5 535.1,120.8 535.9,121.0 536.6,121.3 537.4,121.5 538.1,121.8 538.9,122.1 539.6,122.4 540.4,122.7 541.1,123.0 541.9,123.3 542.6,123.6 543.4,124.0 544.1,124.3 544.9,124.6 545.6,125.0 546.4,125.3 547.1,125.7 547.9,126.0 548.6,126.4 549.4,126.8 550.1,127.1 550.9,127.5 551.6,127.9 552.4,128.2 553.1,128.6 553.9,129.0 554.6,129.4 555.4,129.8 556.1,130.1 556.9,130.5 557.6,130.9 558.4,131.3 559.1,131.6 559.9,132.0 560.6,132.4 561.4,132.7 562.1,133.1 562.9,133.5 563.6,133.8 564.4,134.2 565.1,134.5 565.9,134.9 566.6,135.2 567.4,135.6 568.1,135.9 568.9,136.3 569.6,136.6 570.4,136.9 571.1,137.2 571.9,137.6 572.6,137.9 573.4,138.2 574.1,138.5 574.9,138.8 575.6,139.1 576.4,139.4 577.1,139.7 577.9,140.0 578.6,140.3 579.4,140.6 580.1,140.8 580.9,141.1 581.6,141.4 582.4,141.7 583.1,142.0 583.9,142.2 584.6,142.5 585.4,142.8 586.1,143.1 586.9,143.3 587.6,143.6 588.4,143.9 589.1,144.1 589.9,144.4 590.6,144.7 591.4,144.9 592.1,145.2 592.9,145.5 593.6,145.7 594.4,146.0 595.1,146.3 595.9,146.5 596.6,146.8 597.4,147.0 598.1,147.3 598.9,147.5 599.6,147.8 600.4,148.1 601.1,148.3 601.9,148.6 602.6,148.8 603.4,149.1 604.1,149.3 604.9,149.6 605.6,149.8 606.4,150.0 607.1,150.3 607.9,150.5 608.6,150.8 609.4,151.0 610.1,151.3 610.9,151.5 611.6,151.7 612.4,152.0 613.1,152.2 613.9,152.4 614.6,152.7 615.4,152.9 616.1,153.1 616.9,153.4 617.6,153.6 618.4,153.8 619.1,154.1 619.9,154.3 620.6,154.5 621.4,154.7 622.1,155.0 622.9,155.2 623.6,155.4 624.4,155.6 625.1,155.8 625.9,156.1 626.6,156.3 627.4,156.5 628.1,156.7 628.9,156.9 629.6,157.2 630.4,157.4 631.1,157.6 631.9,157.8 632.6,158.0 633.4,158.2 634.1,158.4 634.9,158.6 635.6,158.8 636.4,159.0 637.1,159.2 637.9,159.4 638.6,159.6 639.4,159.8 640.1,160.0 640.9,160.1 641.6,160.3 642.4,160.5 643.1,160.7 643.9,160.9 644.6,161.0 645.4,161.2 646.1,161.4 646.9,161.5 647.6,161.7 648.4,161.8 649.1,162.0 649.9,162.2 650.6,162.3 651.4,162.5 652.1,162.6 652.9,162.7 653.6,162.9 654.4,163.0 655.1,163.2 655.9,163.3 656.6,163.4 657.4,163.6 658.1,163.7 658.9,163.8 659.6,163.9 660.4,164.1 661.1,164.2 661.9,164.3 662.6,164.4 663.4,164.5 664.1,164.6 664.9,164.8 665.6,164.9 666.4,165.0 667.1,165.1 667.2,165.1" fill="none" stroke="#d77c5e" stroke-width="1.25" stroke-linejoin="round"/>
<path d="M477.5,25.9 V180.6 H676.6" fill="none" stroke="#706a66" stroke-width="1.45"/>
<line x1="475.9" y1="177.4" x2="477.5" y2="177.4" stroke="#706a66" stroke-width="0.9"/>
<text class="san" transform="translate(474.50,179.10) scale(0.25)" text-anchor="end" font-size="19.2" fill="#3a3a3a" stroke="#3a3a3a" stroke-width="0.7">0.0</text>
<line x1="475.9" y1="146.75" x2="477.5" y2="146.75" stroke="#706a66" stroke-width="0.9"/>
<text class="san" transform="translate(474.50,148.45) scale(0.25)" text-anchor="end" font-size="19.2" fill="#3a3a3a" stroke="#3a3a3a" stroke-width="0.7">0.5</text>
<line x1="475.9" y1="116.1" x2="477.5" y2="116.1" stroke="#706a66" stroke-width="0.9"/>
<text class="san" transform="translate(474.50,117.80) scale(0.25)" text-anchor="end" font-size="19.2" fill="#3a3a3a" stroke="#3a3a3a" stroke-width="0.7">1.0</text>
<line x1="475.9" y1="85.45" x2="477.5" y2="85.45" stroke="#706a66" stroke-width="0.9"/>
<text class="san" transform="translate(474.50,87.15) scale(0.25)" text-anchor="end" font-size="19.2" fill="#3a3a3a" stroke="#3a3a3a" stroke-width="0.7">1.5</text>
<line x1="475.9" y1="54.8" x2="477.5" y2="54.8" stroke="#706a66" stroke-width="0.9"/>
<text class="san" transform="translate(474.50,56.50) scale(0.25)" text-anchor="end" font-size="19.2" fill="#3a3a3a" stroke="#3a3a3a" stroke-width="0.7">2.0</text>
<line x1="486.3" y1="180.6" x2="486.3" y2="182.2" stroke="#706a66" stroke-width="0.9"/>
<text class="san" transform="translate(486.30,187.00) scale(0.25)" text-anchor="middle" font-size="19.2" fill="#3a3a3a" stroke="#3a3a3a" stroke-width="0.7">0</text>
<line x1="541.4" y1="180.6" x2="541.4" y2="182.2" stroke="#706a66" stroke-width="0.9"/>
<text class="san" transform="translate(541.40,187.00) scale(0.25)" text-anchor="middle" font-size="19.2" fill="#3a3a3a" stroke="#3a3a3a" stroke-width="0.7">5000</text>
<line x1="596.4" y1="180.6" x2="596.4" y2="182.2" stroke="#706a66" stroke-width="0.9"/>
<text class="san" transform="translate(596.40,187.00) scale(0.25)" text-anchor="middle" font-size="19.2" fill="#3a3a3a" stroke="#3a3a3a" stroke-width="0.7">10000</text>
<line x1="651.5" y1="180.6" x2="651.5" y2="182.2" stroke="#706a66" stroke-width="0.9"/>
<text class="san" transform="translate(651.50,187.00) scale(0.25)" text-anchor="middle" font-size="19.2" fill="#3a3a3a" stroke="#3a3a3a" stroke-width="0.7">15000</text>
<line x1="477.5" y1="116.4" x2="676.6" y2="116.4" stroke="#1c1c1c" stroke-width="1.5" stroke-dasharray="5.0 4.42"/>
<line x1="513.4" y1="180.6" x2="513.4" y2="25.4" stroke="#1c1c1c" stroke-width="1.5" stroke-dasharray="5.0 4.38"/>
<text class="san" x="577.05" y="194.0" text-anchor="middle" font-size="6.2" fill="#1a1a1a" stroke="#1a1a1a" stroke-width="0.2">TPA</text>
<text class="san" transform="translate(465.2,103.25) rotate(-90)" text-anchor="middle" font-size="6.0" fill="#1a1a1a" stroke="#1a1a1a" stroke-width="0.15">OR (95%CI)</text>
<text class="ser" x="458.0" y="22.8" font-size="16" fill="#1a1a1a">c</text>
<text class="ser" x="546.2" y="49.6" font-size="13.7" fill="#222" stroke="#222" stroke-width="0.12">P for overall=0.001</text>
<text class="ser" x="546.2" y="65.9" font-size="13.7" fill="#222" stroke="#222" stroke-width="0.12">P for nonlinear=0.574</text>
<polygon points="30.5,221.7 31.2,227.5 32.0,233.2 32.8,238.8 33.5,244.2 34.2,249.4 35.0,254.3 35.8,259.0 36.5,263.3 37.2,267.3 38.0,270.9 38.8,274.3 39.5,277.3 40.2,280.1 41.0,282.6 41.8,284.8 42.5,286.9 43.2,288.7 44.0,290.4 44.8,291.9 45.5,293.3 46.2,294.6 47.0,295.8 47.8,296.9 48.5,298.0 49.2,299.0 50.0,299.9 50.8,300.8 51.5,301.7 52.2,302.5 53.0,303.4 53.8,304.2 54.5,305.0 55.2,305.8 56.0,306.6 56.8,307.4 57.5,308.2 58.2,309.0 58.3,309.0 59.0,308.3 59.8,307.6 60.5,306.9 61.3,306.2 62.0,305.5 62.8,304.8 63.5,304.2 64.3,303.5 65.0,302.9 65.8,302.2 66.5,301.6 67.3,300.9 68.0,300.3 68.8,299.7 69.5,299.1 70.3,298.6 71.0,298.0 71.8,297.5 72.5,297.0 73.3,296.5 74.0,296.0 74.8,295.5 75.5,295.1 76.3,294.7 77.0,294.3 77.8,293.9 78.5,293.5 79.3,293.2 80.0,292.9 80.8,292.6 81.5,292.4 82.3,292.1 83.0,291.9 83.8,291.7 84.5,291.5 85.3,291.4 86.0,291.3 86.8,291.2 87.5,291.1 88.3,291.0 89.0,291.0 89.8,291.0 90.5,291.0 91.3,291.0 92.0,291.1 92.8,291.2 93.5,291.2 94.3,291.4 95.0,291.5 95.8,291.6 96.5,291.8 97.3,292.0 98.0,292.2 98.8,292.4 99.5,292.6 100.3,292.8 101.0,293.1 101.8,293.4 102.5,293.6 103.3,293.9 104.0,294.2 104.8,294.5 105.5,294.8 106.3,295.2 107.0,295.5 107.8,295.8 108.5,296.2 109.3,296.5 110.0,296.9 110.8,297.2 111.5,297.5 112.3,297.9 113.0,298.2 113.8,298.6 114.5,298.9 115.3,299.3 116.0,299.6 116.8,300.0 117.5,300.3 118.3,300.6 119.0,301.0 119.8,301.3 120.5,301.6 121.3,301.9 122.0,302.2 122.8,302.5 123.5,302.8 124.3,303.0 125.0,303.3 125.8,303.6 126.5,303.8 127.3,304.1 128.1,304.3 128.8,304.5 129.6,304.8 130.3,305.0 131.1,305.2 131.8,305.4 132.6,305.6 133.3,305.8 134.1,306.0 134.8,306.1 135.6,306.3 136.3,306.5 137.1,306.6 137.8,306.8 138.6,306.9 139.3,307.0 140.1,307.2 140.8,307.3 141.6,307.4 142.3,307.5 143.1,307.6 143.8,307.7 144.6,307.8 145.3,307.9 146.1,307.9 146.8,308.0 147.6,308.1 148.3,308.1 149.1,308.2 149.8,308.2 150.6,308.2 151.3,308.2 152.1,308.2 152.8,308.3 153.6,308.3 154.3,308.2 155.1,308.2 155.8,308.2 156.6,308.2 157.3,308.2 158.1,308.1 158.8,308.1 159.6,308.0 160.3,308.0 161.1,307.9 161.8,307.9 162.6,307.8 163.3,307.7 164.1,307.7 164.8,307.6 165.6,307.5 166.3,307.4 167.1,307.3 167.8,307.2 168.6,307.1 169.3,307.1 170.1,307.0 170.8,306.9 171.6,306.7 172.3,306.6 173.1,306.5 173.8,306.4 174.6,306.3 175.3,306.2 176.1,306.1 176.8,306.0 177.6,305.8 178.3,305.7 179.1,305.6 179.8,305.5 180.6,305.4 181.3,305.2 182.1,305.1 182.8,305.0 183.6,304.8 184.3,304.7 185.1,304.6 185.8,304.4 186.6,304.3 187.3,304.2 188.1,304.0 188.8,303.9 189.6,303.8 190.3,303.6 191.1,303.5 191.8,303.3 192.6,303.2 193.3,303.1 194.1,302.9 194.8,302.8 195.6,302.6 196.3,302.5 197.1,302.3 197.8,302.2 198.6,302.0 199.3,301.9 200.1,301.7 200.8,301.6 201.6,301.4 202.3,301.3 203.1,301.1 203.8,300.9 204.6,300.8 205.3,300.6 206.1,300.5 206.8,300.3 207.6,300.1 208.3,300.0 209.1,299.8 209.8,299.7 210.6,299.5 211.3,299.3 212.1,299.2 212.8,299.0 213.6,298.8 214.3,298.7 214.6,298.6 214.6,359.6 214.3,359.6 213.6,359.5 212.8,359.5 212.1,359.4 211.3,359.4 210.6,359.3 209.8,359.3 209.1,359.2 208.3,359.2 207.6,359.1 206.8,359.1 206.1,359.0 205.3,358.9 204.6,358.9 203.8,358.8 203.1,358.8 202.3,358.7 201.6,358.7 200.8,358.6 200.1,358.5 199.3,358.5 198.6,358.4 197.8,358.4 197.1,358.3 196.3,358.2 195.6,358.2 194.8,358.1 194.1,358.0 193.3,357.9 192.6,357.9 191.8,357.8 191.1,357.7 190.3,357.6 189.6,357.6 188.8,357.5 188.1,357.4 187.3,357.3 186.6,357.2 185.8,357.1 185.1,357.0 184.3,356.9 183.6,356.8 182.8,356.7 182.1,356.6 181.3,356.5 180.6,356.4 179.8,356.3 179.1,356.2 178.3,356.1 177.6,355.9 176.8,355.8 176.1,355.7 175.3,355.6 174.6,355.4 173.8,355.3 173.1,355.2 172.3,355.0 171.6,354.9 170.8,354.7 170.1,354.6 169.3,354.4 168.6,354.3 167.8,354.1 167.1,354.0 166.3,353.8 165.6,353.7 164.8,353.5 164.1,353.3 163.3,353.2 162.6,353.0 161.8,352.8 161.1,352.6 160.3,352.5 159.6,352.3 158.8,352.1 158.1,351.9 157.3,351.7 156.6,351.5 155.8,351.3 155.1,351.2 154.3,351.0 153.6,350.8 152.8,350.6 152.1,350.4 151.3,350.2 150.6,350.0 149.8,349.8 149.1,349.6 148.3,349.4 147.6,349.2 146.8,349.0 146.1,348.8 145.3,348.6 144.6,348.4 143.8,348.2 143.1,348.0 142.3,347.8 141.6,347.6 140.8,347.4 140.1,347.2 139.3,347.0 138.6,346.8 137.8,346.6 137.1,346.4 136.3,346.2 135.6,346.0 134.8,345.8 134.1,345.5 133.3,345.3 132.6,345.1 131.8,344.9 131.1,344.7 130.3,344.5 129.6,344.2 128.8,344.0 128.1,343.8 127.3,343.5 126.5,343.3 125.8,343.1 125.0,342.8 124.3,342.6 123.5,342.4 122.8,342.1 122.0,341.9 121.3,341.6 120.5,341.4 119.8,341.2 119.0,340.9 118.3,340.7 117.5,340.4 116.8,340.2 116.0,339.9 115.3,339.7 114.5,339.4 113.8,339.2 113.0,338.9 112.3,338.6 111.5,338.4 110.8,338.1 110.0,337.9 109.3,337.6 108.5,337.4 107.8,337.1 107.0,336.8 106.3,336.6 105.5,336.3 104.8,336.1 104.0,335.8 103.3,335.5 102.5,335.3 101.8,335.0 101.0,334.7 100.3,334.5 99.5,334.2 98.8,333.9 98.0,333.6 97.3,333.4 96.5,333.1 95.8,332.8 95.0,332.5 94.3,332.2 93.5,331.9 92.8,331.6 92.0,331.3 91.3,331.0 90.5,330.7 89.8,330.4 89.0,330.1 88.3,329.8 87.5,329.5 86.8,329.2 86.0,328.8 85.3,328.5 84.5,328.1 83.8,327.8 83.0,327.4 82.3,327.1 81.5,326.7 80.8,326.3 80.0,325.9 79.3,325.5 78.5,325.1 77.8,324.7 77.0,324.2 76.3,323.8 75.5,323.3 74.8,322.8 74.0,322.3 73.3,321.8 72.5,321.3 71.8,320.8 71.0,320.2 70.3,319.7 69.5,319.1 68.8,318.5 68.0,317.9 67.3,317.3 66.5,316.7 65.8,316.0 65.0,315.4 64.3,314.7 63.5,314.0 62.8,313.3 62.0,312.6 61.3,311.9 60.5,311.2 59.8,310.5 59.0,309.8 58.3,309.0 58.2,309.0 57.5,309.2 56.8,309.3 56.0,309.5 55.2,309.7 54.5,309.9 53.8,310.0 53.0,310.2 52.2,310.4 51.5,310.6 50.8,310.7 50.0,310.9 49.2,311.1 48.5,311.3 47.8,311.4 47.0,311.6 46.2,311.7 45.5,311.9 44.8,312.1 44.0,312.2 43.2,312.4 42.5,312.5 41.8,312.7 41.0,312.8 40.2,312.9 39.5,313.1 38.8,313.3 38.0,313.4 37.2,313.6 36.5,313.7 35.8,313.9 35.0,314.0 34.2,314.2 33.5,314.4 32.8,314.6 32.0,314.7 31.2,314.9 30.5,315.1" fill="#fdece4"/>
<polyline points="30.5,283.4 31.2,284.5 32.0,285.5 32.8,286.6 33.5,287.6 34.2,288.6 35.0,289.7 35.8,290.7 36.5,291.7 37.2,292.7 38.0,293.6 38.8,294.6 39.5,295.5 40.2,296.4 41.0,297.3 41.8,298.2 42.5,299.0 43.2,299.8 44.0,300.6 44.8,301.4 45.5,302.1 46.2,302.8 47.0,303.4 47.8,304.0 48.5,304.6 49.2,305.1 50.0,305.6 50.8,306.1 51.5,306.5 52.2,306.8 53.0,307.2 53.8,307.5 54.5,307.8 55.2,308.1 56.0,308.3 56.8,308.5 57.5,308.7 58.2,308.8 58.3,308.8 59.0,309.0 59.8,309.0 60.5,309.1 61.3,309.2 62.0,309.2 62.8,309.3 63.5,309.3 64.3,309.4 65.0,309.5 65.8,309.5 66.5,309.6 67.3,309.7 68.0,309.7 68.8,309.8 69.5,309.9 70.3,310.0 71.0,310.1 71.8,310.2 72.5,310.3 73.3,310.5 74.0,310.6 74.8,310.7 75.5,310.8 76.3,311.0 77.0,311.1 77.8,311.3 78.5,311.5 79.3,311.6 80.0,311.8 80.8,312.0 81.5,312.2 82.3,312.4 83.0,312.6 83.8,312.8 84.5,313.0 85.3,313.2 86.0,313.4 86.8,313.7 87.5,313.9 88.3,314.1 89.0,314.3 89.8,314.6 90.5,314.8 91.3,315.0 92.0,315.3 92.8,315.5 93.5,315.8 94.3,316.0 95.0,316.2 95.8,316.5 96.5,316.7 97.3,317.0 98.0,317.2 98.8,317.5 99.5,317.7 100.3,317.9 101.0,318.2 101.8,318.4 102.5,318.7 103.3,318.9 104.0,319.2 104.8,319.4 105.5,319.7 106.3,320.0 107.0,320.2 107.8,320.5 108.5,320.7 109.3,321.0 110.0,321.3 110.8,321.5 111.5,321.8 112.3,322.1 113.0,322.4 113.8,322.6 114.5,322.9 115.3,323.2 116.0,323.5 116.8,323.7 117.5,324.0 118.3,324.3 119.0,324.6 119.8,324.9 120.5,325.2 121.3,325.4 122.0,325.7 122.8,326.0 123.5,326.3 124.3,326.6 125.0,326.8 125.8,327.1 126.5,327.4 127.3,327.7 128.1,328.0 128.8,328.2 129.6,328.5 130.3,328.8 131.1,329.0 131.8,329.3 132.6,329.6 133.3,329.8 134.1,330.1 134.8,330.4 135.6,330.6 136.3,330.9 137.1,331.2 137.8,331.4 138.6,331.7 139.3,331.9 140.1,332.2 140.8,332.4 141.6,332.7 142.3,332.9 143.1,333.1 143.8,333.4 144.6,333.6 145.3,333.9 146.1,334.1 146.8,334.3 147.6,334.6 148.3,334.8 149.1,335.0 149.8,335.2 150.6,335.5 151.3,335.7 152.1,335.9 152.8,336.1 153.6,336.3 154.3,336.5 155.1,336.8 155.8,337.0 156.6,337.2 157.3,337.4 158.1,337.6 158.8,337.8 159.6,338.0 160.3,338.2 161.1,338.4 161.8,338.6 162.6,338.8 163.3,339.0 164.1,339.2 164.8,339.4 165.6,339.5 166.3,339.7 167.1,339.9 167.8,340.1 168.6,340.3 169.3,340.5 170.1,340.7 170.8,340.8 171.6,341.0 172.3,341.2 173.1,341.4 173.8,341.6 174.6,341.7 175.3,341.9 176.1,342.1 176.8,342.2 177.6,342.4 178.3,342.6 179.1,342.8 179.8,342.9 180.6,343.1 181.3,343.3 182.1,343.4 182.8,343.6 183.6,343.7 184.3,343.9 185.1,344.1 185.8,344.2 186.6,344.4 187.3,344.5 188.1,344.7 188.8,344.9 189.6,345.0 190.3,345.2 191.1,345.3 191.8,345.5 192.6,345.6 193.3,345.8 194.1,345.9 194.8,346.1 195.6,346.2 196.3,346.4 197.1,346.5 197.8,346.7 198.6,346.8 199.3,347.0 200.1,347.1 200.8,347.2 201.6,347.4 202.3,347.5 203.1,347.7 203.8,347.8 204.6,348.0 205.3,348.1 206.1,348.2 206.8,348.4 207.6,348.5 208.3,348.7 209.1,348.8 209.8,348.9 210.6,349.1 211.3,349.2 212.1,349.3 212.8,349.5 213.6,349.6 214.3,349.7 214.6,349.8" fill="none" stroke="#d77c5e" stroke-width="1.25" stroke-linejoin="round"/>
<path d="M21.4,213.0 V367.35 H224.2" fill="none" stroke="#706a66" stroke-width="1.45"/>
<line x1="19.799999999999997" y1="363.5" x2="21.4" y2="363.5" stroke="#706a66" stroke-width="0.9"/>
<text class="san" transform="translate(18.40,365.20) scale(0.25)" text-anchor="end" font-size="19.2" fill="#3a3a3a" stroke="#3a3a3a" stroke-width="0.7">0</text>
<line x1="19.799999999999997" y1="309.0" x2="21.4" y2="309.0" stroke="#706a66" stroke-width="0.9"/>
<text class="san" transform="translate(18.40,310.70) scale(0.25)" text-anchor="end" font-size="19.2" fill="#3a3a3a" stroke="#3a3a3a" stroke-width="0.7">1</text>
<line x1="19.799999999999997" y1="254.5" x2="21.4" y2="254.5" stroke="#706a66" stroke-width="0.9"/>
<text class="san" transform="translate(18.40,256.20) scale(0.25)" text-anchor="end" font-size="19.2" fill="#3a3a3a" stroke="#3a3a3a" stroke-width="0.7">2</text>
<line x1="30.4" y1="367.35" x2="30.4" y2="368.95000000000005" stroke="#706a66" stroke-width="0.9"/>
<text class="san" transform="translate(30.40,373.75) scale(0.25)" text-anchor="middle" font-size="19.2" fill="#3a3a3a" stroke="#3a3a3a" stroke-width="0.7">0</text>
<line x1="86.7" y1="367.35" x2="86.7" y2="368.95000000000005" stroke="#706a66" stroke-width="0.9"/>
<text class="san" transform="translate(86.70,373.75) scale(0.25)" text-anchor="middle" font-size="19.2" fill="#3a3a3a" stroke="#3a3a3a" stroke-width="0.7">5000</text>
<line x1="143.1" y1="367.35" x2="143.1" y2="368.95000000000005" stroke="#706a66" stroke-width="0.9"/>
<text class="san" transform="translate(143.10,373.75) scale(0.25)" text-anchor="middle" font-size="19.2" fill="#3a3a3a" stroke="#3a3a3a" stroke-width="0.7">10000</text>
<line x1="199.3" y1="367.35" x2="199.3" y2="368.95000000000005" stroke="#706a66" stroke-width="0.9"/>
<text class="san" transform="translate(199.30,373.75) scale(0.25)" text-anchor="middle" font-size="19.2" fill="#3a3a3a" stroke="#3a3a3a" stroke-width="0.7">15000</text>
<line x1="21.4" y1="309.0" x2="224.2" y2="309.0" stroke="#1c1c1c" stroke-width="1.5" stroke-dasharray="5.0 4.42"/>
<line x1="58.3" y1="367.35" x2="58.3" y2="212.5" stroke="#1c1c1c" stroke-width="1.5" stroke-dasharray="5.0 4.38"/>
<text class="san" x="122.80" y="380.6" text-anchor="middle" font-size="6.2" fill="#1a1a1a" stroke="#1a1a1a" stroke-width="0.2">TPA</text>
<text class="san" transform="translate(12.8,290.18) rotate(-90)" text-anchor="middle" font-size="6.0" fill="#1a1a1a" stroke="#1a1a1a" stroke-width="0.15">OR (95%CI)</text>
<text class="ser" x="5.2" y="212.0" font-size="16" fill="#1a1a1a">d</text>
<text class="ser" x="90.9" y="237.6" font-size="13.7" fill="#222" stroke="#222" stroke-width="0.12">P for overall=0.044</text>
<text class="ser" x="90.9" y="253.8" font-size="13.7" fill="#222" stroke="#222" stroke-width="0.12">P for nonlinear=0.751</text>
<polygon points="258.5,226.0 259.2,230.5 260.0,235.0 260.8,239.4 261.5,243.6 262.2,247.7 263.0,251.7 263.8,255.4 264.5,258.8 265.2,262.0 266.0,265.0 266.8,267.7 267.5,270.2 268.2,272.6 269.0,274.7 269.8,276.8 270.5,278.7 271.2,280.6 272.0,282.3 272.8,284.0 273.5,285.7 274.2,287.2 275.0,288.8 275.8,290.3 276.5,291.8 277.2,293.2 278.0,294.6 278.8,296.0 279.5,297.4 280.2,298.8 281.0,300.1 281.8,301.5 282.5,302.8 283.2,304.1 284.0,305.5 284.8,306.8 285.5,308.1 285.9,308.8 286.6,308.4 287.4,308.0 288.1,307.6 288.9,307.2 289.6,306.8 290.4,306.5 291.1,306.1 291.9,305.7 292.6,305.4 293.4,305.0 294.1,304.7 294.9,304.4 295.6,304.0 296.4,303.7 297.1,303.4 297.9,303.2 298.6,302.9 299.4,302.6 300.1,302.4 300.9,302.2 301.6,301.9 302.4,301.7 303.1,301.6 303.9,301.4 304.6,301.2 305.4,301.1 306.1,301.0 306.9,300.9 307.6,300.8 308.4,300.8 309.1,300.7 309.9,300.7 310.6,300.7 311.4,300.7 312.1,300.7 312.9,300.8 313.6,300.9 314.4,301.0 315.1,301.1 315.9,301.2 316.6,301.3 317.4,301.5 318.1,301.6 318.9,301.8 319.6,302.0 320.4,302.2 321.1,302.5 321.9,302.7 322.6,303.0 323.4,303.3 324.1,303.6 324.9,303.9 325.6,304.2 326.4,304.5 327.1,304.8 327.9,305.2 328.6,305.5 329.4,305.9 330.1,306.3 330.9,306.6 331.6,307.0 332.4,307.4 333.1,307.8 333.9,308.2 334.6,308.6 335.4,309.0 336.1,309.4 336.9,309.8 337.6,310.2 338.4,310.6 339.1,311.0 339.9,311.4 340.6,311.7 341.4,312.1 342.1,312.5 342.9,312.9 343.6,313.3 344.4,313.7 345.1,314.0 345.9,314.4 346.6,314.7 347.4,315.1 348.1,315.4 348.9,315.8 349.6,316.1 350.4,316.5 351.1,316.8 351.9,317.1 352.6,317.4 353.4,317.7 354.1,318.0 354.9,318.3 355.6,318.6 356.4,318.9 357.1,319.2 357.9,319.5 358.6,319.8 359.4,320.0 360.1,320.3 360.9,320.6 361.6,320.8 362.4,321.1 363.1,321.3 363.9,321.5 364.6,321.8 365.4,322.0 366.1,322.2 366.9,322.4 367.6,322.7 368.4,322.9 369.1,323.1 369.9,323.3 370.6,323.5 371.4,323.7 372.1,323.9 372.9,324.0 373.6,324.2 374.4,324.4 375.1,324.6 375.9,324.8 376.6,324.9 377.4,325.1 378.1,325.2 378.9,325.4 379.6,325.6 380.4,325.7 381.1,325.9 381.9,326.0 382.6,326.2 383.4,326.3 384.1,326.4 384.9,326.6 385.6,326.7 386.4,326.8 387.1,327.0 387.9,327.1 388.6,327.2 389.4,327.4 390.1,327.5 390.9,327.6 391.6,327.7 392.4,327.8 393.1,328.0 393.9,328.1 394.6,328.2 395.4,328.3 396.1,328.4 396.9,328.5 397.6,328.6 398.4,328.7 399.1,328.8 399.9,328.9 400.6,329.0 401.4,329.1 402.1,329.2 402.9,329.3 403.6,329.4 404.4,329.5 405.1,329.6 405.9,329.7 406.6,329.7 407.4,329.8 408.1,329.9 408.9,330.0 409.6,330.1 410.4,330.1 411.1,330.2 411.9,330.3 412.6,330.4 413.4,330.4 414.1,330.5 414.9,330.6 415.6,330.6 416.4,330.7 417.1,330.7 417.9,330.8 418.6,330.8 419.4,330.9 420.1,331.0 420.9,331.0 421.6,331.1 422.4,331.1 423.1,331.2 423.9,331.2 424.6,331.2 425.4,331.3 426.1,331.3 426.9,331.4 427.6,331.4 428.4,331.5 429.1,331.5 429.9,331.5 430.6,331.6 431.4,331.6 432.1,331.7 432.9,331.7 433.6,331.7 434.4,331.8 435.1,331.8 435.9,331.8 436.6,331.9 437.4,331.9 438.1,332.0 438.9,332.0 439.2,332.0 439.2,364.3 438.9,364.3 438.1,364.2 437.4,364.1 436.6,364.0 435.9,363.9 435.1,363.8 434.4,363.7 433.6,363.7 432.9,363.6 432.1,363.5 431.4,363.4 430.6,363.3 429.9,363.2 429.1,363.1 428.4,363.0 427.6,362.9 426.9,362.8 426.1,362.8 425.4,362.7 424.6,362.6 423.9,362.5 423.1,362.4 422.4,362.3 421.6,362.2 420.9,362.1 420.1,362.0 419.4,361.9 418.6,361.8 417.9,361.7 417.1,361.6 416.4,361.5 415.6,361.4 414.9,361.2 414.1,361.1 413.4,361.0 412.6,360.9 411.9,360.8 411.1,360.6 410.4,360.5 409.6,360.4 408.9,360.3 408.1,360.1 407.4,360.0 406.6,359.8 405.9,359.7 405.1,359.6 404.4,359.4 403.6,359.3 402.9,359.1 402.1,359.0 401.4,358.8 400.6,358.6 399.9,358.5 399.1,358.3 398.4,358.1 397.6,358.0 396.9,357.8 396.1,357.6 395.4,357.4 394.6,357.2 393.9,357.0 393.1,356.8 392.4,356.6 391.6,356.4 390.9,356.2 390.1,356.0 389.4,355.8 388.6,355.6 387.9,355.3 387.1,355.1 386.4,354.9 385.6,354.6 384.9,354.4 384.1,354.1 383.4,353.9 382.6,353.6 381.9,353.3 381.1,353.1 380.4,352.8 379.6,352.5 378.9,352.2 378.1,352.0 377.4,351.7 376.6,351.4 375.9,351.1 375.1,350.8 374.4,350.4 373.6,350.1 372.9,349.8 372.1,349.5 371.4,349.1 370.6,348.8 369.9,348.5 369.1,348.1 368.4,347.8 367.6,347.4 366.9,347.1 366.1,346.8 365.4,346.4 364.6,346.1 363.9,345.7 363.1,345.4 362.4,345.0 361.6,344.7 360.9,344.4 360.1,344.0 359.4,343.7 358.6,343.4 357.9,343.1 357.1,342.7 356.4,342.4 355.6,342.1 354.9,341.8 354.1,341.5 353.4,341.2 352.6,340.9 351.9,340.6 351.1,340.3 350.4,340.1 349.6,339.8 348.9,339.5 348.1,339.2 347.4,339.0 346.6,338.7 345.9,338.5 345.1,338.2 344.4,338.0 343.6,337.8 342.9,337.5 342.1,337.3 341.4,337.1 340.6,336.8 339.9,336.6 339.1,336.4 338.4,336.2 337.6,335.9 336.9,335.7 336.1,335.5 335.4,335.3 334.6,335.1 333.9,334.9 333.1,334.7 332.4,334.5 331.6,334.3 330.9,334.0 330.1,333.8 329.4,333.6 328.6,333.4 327.9,333.2 327.1,333.0 326.4,332.8 325.6,332.6 324.9,332.4 324.1,332.1 323.4,331.9 322.6,331.7 321.9,331.5 321.1,331.2 320.4,331.0 319.6,330.8 318.9,330.5 318.1,330.3 317.4,330.0 316.6,329.7 315.9,329.5 315.1,329.2 314.4,328.9 313.6,328.6 312.9,328.3 312.1,327.9 311.4,327.6 310.6,327.3 309.9,326.9 309.1,326.5 308.4,326.1 307.6,325.7 306.9,325.3 306.1,324.9 305.4,324.4 304.6,324.0 303.9,323.5 303.1,323.0 302.4,322.5 301.6,322.0 300.9,321.5 300.1,320.9 299.4,320.4 298.6,319.8 297.9,319.2 297.1,318.7 296.4,318.1 295.6,317.4 294.9,316.8 294.1,316.2 293.4,315.6 292.6,314.9 291.9,314.3 291.1,313.6 290.4,312.9 289.6,312.3 288.9,311.6 288.1,310.9 287.4,310.2 286.6,309.5 285.9,308.8 285.5,308.7 284.8,308.6 284.0,308.5 283.2,308.4 282.5,308.3 281.8,308.2 281.0,308.1 280.2,308.0 279.5,307.8 278.8,307.7 278.0,307.6 277.2,307.5 276.5,307.4 275.8,307.3 275.0,307.2 274.2,307.1 273.5,307.0 272.8,306.9 272.0,306.8 271.2,306.7 270.5,306.7 269.8,306.6 269.0,306.5 268.2,306.5 267.5,306.4 266.8,306.3 266.0,306.3 265.2,306.2 264.5,306.2 263.8,306.2 263.0,306.2 262.2,306.1 261.5,306.1 260.8,306.1 260.0,306.2 259.2,306.2 258.5,306.2" fill="#fdece4"/>
<polyline points="258.8,274.7 259.6,276.2 260.3,277.7 261.1,279.2 261.8,280.7 262.6,282.2 263.3,283.6 264.1,285.0 264.8,286.4 265.6,287.7 266.3,289.0 267.1,290.3 267.8,291.5 268.6,292.7 269.3,293.8 270.1,294.9 270.8,296.0 271.6,297.0 272.3,298.0 273.1,299.0 273.8,299.9 274.6,300.8 275.3,301.6 276.1,302.4 276.8,303.2 277.6,303.9 278.3,304.5 279.1,305.1 279.8,305.6 280.6,306.2 281.3,306.6 282.1,307.0 282.8,307.4 283.6,307.8 284.3,308.1 285.1,308.4 285.8,308.7 285.9,308.7 286.6,308.9 287.4,309.1 288.1,309.3 288.9,309.5 289.6,309.7 290.4,309.9 291.1,310.1 291.9,310.3 292.6,310.5 293.4,310.7 294.1,310.9 294.9,311.1 295.6,311.3 296.4,311.5 297.1,311.7 297.9,311.9 298.6,312.1 299.4,312.3 300.1,312.5 300.9,312.7 301.6,312.9 302.4,313.1 303.1,313.3 303.9,313.6 304.6,313.8 305.4,314.0 306.1,314.3 306.9,314.5 307.6,314.8 308.4,315.0 309.1,315.3 309.9,315.5 310.6,315.8 311.4,316.1 312.1,316.4 312.9,316.6 313.6,316.9 314.4,317.2 315.1,317.5 315.9,317.8 316.6,318.1 317.4,318.4 318.1,318.7 318.9,319.0 319.6,319.4 320.4,319.7 321.1,320.0 321.9,320.3 322.6,320.6 323.4,321.0 324.1,321.3 324.9,321.6 325.6,321.9 326.4,322.3 327.1,322.6 327.9,322.9 328.6,323.2 329.4,323.6 330.1,323.9 330.9,324.2 331.6,324.5 332.4,324.9 333.1,325.2 333.9,325.5 334.6,325.8 335.4,326.1 336.1,326.5 336.9,326.8 337.6,327.1 338.4,327.4 339.1,327.7 339.9,328.0 340.6,328.3 341.4,328.6 342.1,328.9 342.9,329.2 343.6,329.5 344.4,329.8 345.1,330.1 345.9,330.4 346.6,330.7 347.4,331.0 348.1,331.3 348.9,331.6 349.6,331.8 350.4,332.1 351.1,332.4 351.9,332.7 352.6,333.0 353.4,333.2 354.1,333.5 354.9,333.8 355.6,334.1 356.4,334.3 357.1,334.6 357.9,334.9 358.6,335.1 359.4,335.4 360.1,335.7 360.9,336.0 361.6,336.2 362.4,336.5 363.1,336.8 363.9,337.0 364.6,337.3 365.4,337.6 366.1,337.9 366.9,338.1 367.6,338.4 368.4,338.7 369.1,339.0 369.9,339.2 370.6,339.5 371.4,339.8 372.1,340.0 372.9,340.3 373.6,340.6 374.4,340.8 375.1,341.1 375.9,341.4 376.6,341.6 377.4,341.9 378.1,342.2 378.9,342.4 379.6,342.7 380.4,343.0 381.1,343.2 381.9,343.5 382.6,343.7 383.4,344.0 384.1,344.2 384.9,344.5 385.6,344.7 386.4,345.0 387.1,345.2 387.9,345.5 388.6,345.7 389.4,345.9 390.1,346.2 390.9,346.4 391.6,346.6 392.4,346.9 393.1,347.1 393.9,347.3 394.6,347.6 395.4,347.8 396.1,348.0 396.9,348.2 397.6,348.4 398.4,348.6 399.1,348.8 399.9,349.0 400.6,349.2 401.4,349.4 402.1,349.6 402.9,349.8 403.6,350.0 404.4,350.2 405.1,350.4 405.9,350.5 406.6,350.7 407.4,350.9 408.1,351.1 408.9,351.2 409.6,351.4 410.4,351.6 411.1,351.7 411.9,351.9 412.6,352.0 413.4,352.2 414.1,352.3 414.9,352.5 415.6,352.6 416.4,352.7 417.1,352.9 417.9,353.0 418.6,353.1 419.4,353.3 420.1,353.4 420.9,353.5 421.6,353.6 422.4,353.7 423.1,353.9 423.9,354.0 424.6,354.1 425.4,354.2 426.1,354.3 426.9,354.4 427.6,354.5 428.4,354.6 429.1,354.7 429.9,354.8 430.6,354.9 431.4,355.1 432.1,355.2 432.9,355.3 433.6,355.4 434.4,355.5 435.1,355.6 435.9,355.7 436.6,355.8 437.4,355.9 438.1,356.0 438.9,356.1 439.2,356.1" fill="none" stroke="#d77c5e" stroke-width="1.25" stroke-linejoin="round"/>
<path d="M249.4,217.5 V371.7 H448.5" fill="none" stroke="#706a66" stroke-width="1.45"/>
<line x1="247.8" y1="369.4" x2="249.4" y2="369.4" stroke="#706a66" stroke-width="0.9"/>
<text class="san" transform="translate(246.40,371.10) scale(0.25)" text-anchor="end" font-size="19.2" fill="#3a3a3a" stroke="#3a3a3a" stroke-width="0.7">0.0</text>
<line x1="247.8" y1="339.2" x2="249.4" y2="339.2" stroke="#706a66" stroke-width="0.9"/>
<text class="san" transform="translate(246.40,340.90) scale(0.25)" text-anchor="end" font-size="19.2" fill="#3a3a3a" stroke="#3a3a3a" stroke-width="0.7">0.5</text>
<line x1="247.8" y1="309.0" x2="249.4" y2="309.0" stroke="#706a66" stroke-width="0.9"/>
<text class="san" transform="translate(246.40,310.70) scale(0.25)" text-anchor="end" font-size="19.2" fill="#3a3a3a" stroke="#3a3a3a" stroke-width="0.7">1.0</text>
<line x1="247.8" y1="278.7" x2="249.4" y2="278.7" stroke="#706a66" stroke-width="0.9"/>
<text class="san" transform="translate(246.40,280.40) scale(0.25)" text-anchor="end" font-size="19.2" fill="#3a3a3a" stroke="#3a3a3a" stroke-width="0.7">1.5</text>
<line x1="247.8" y1="248.5" x2="249.4" y2="248.5" stroke="#706a66" stroke-width="0.9"/>
<text class="san" transform="translate(246.40,250.20) scale(0.25)" text-anchor="end" font-size="19.2" fill="#3a3a3a" stroke="#3a3a3a" stroke-width="0.7">2.0</text>
<line x1="247.8" y1="218.3" x2="249.4" y2="218.3" stroke="#706a66" stroke-width="0.9"/>
<text class="san" transform="translate(246.40,220.00) scale(0.25)" text-anchor="end" font-size="19.2" fill="#3a3a3a" stroke="#3a3a3a" stroke-width="0.7">2.5</text>
<line x1="258.3" y1="371.7" x2="258.3" y2="373.3" stroke="#706a66" stroke-width="0.9"/>
<text class="san" transform="translate(258.30,378.10) scale(0.25)" text-anchor="middle" font-size="19.2" fill="#3a3a3a" stroke="#3a3a3a" stroke-width="0.7">0</text>
<line x1="313.5" y1="371.7" x2="313.5" y2="373.3" stroke="#706a66" stroke-width="0.9"/>
<text class="san" transform="translate(313.50,378.10) scale(0.25)" text-anchor="middle" font-size="19.2" fill="#3a3a3a" stroke="#3a3a3a" stroke-width="0.7">5000</text>
<line x1="368.7" y1="371.7" x2="368.7" y2="373.3" stroke="#706a66" stroke-width="0.9"/>
<text class="san" transform="translate(368.70,378.10) scale(0.25)" text-anchor="middle" font-size="19.2" fill="#3a3a3a" stroke="#3a3a3a" stroke-width="0.7">10000</text>
<line x1="423.9" y1="371.7" x2="423.9" y2="373.3" stroke="#706a66" stroke-width="0.9"/>
<text class="san" transform="translate(423.90,378.10) scale(0.25)" text-anchor="middle" font-size="19.2" fill="#3a3a3a" stroke="#3a3a3a" stroke-width="0.7">15000</text>
<line x1="249.4" y1="308.8" x2="448.5" y2="308.8" stroke="#1c1c1c" stroke-width="1.5" stroke-dasharray="5.0 4.42"/>
<line x1="285.9" y1="371.7" x2="285.9" y2="217.0" stroke="#1c1c1c" stroke-width="1.5" stroke-dasharray="5.0 4.38"/>
<text class="san" x="348.95" y="386.0" text-anchor="middle" font-size="6.2" fill="#1a1a1a" stroke="#1a1a1a" stroke-width="0.2">TPA</text>
<text class="san" transform="translate(237.3,294.60) rotate(-90)" text-anchor="middle" font-size="6.0" fill="#1a1a1a" stroke="#1a1a1a" stroke-width="0.15">OR (95%CI)</text>
<text class="ser" x="236.5" y="212.0" font-size="16" fill="#1a1a1a">e</text>
<text class="ser" x="318.5" y="237.6" font-size="13.7" fill="#222" stroke="#222" stroke-width="0.12">P for overall&lt;0.001</text>
<text class="ser" x="318.5" y="253.8" font-size="13.7" fill="#222" stroke="#222" stroke-width="0.12">P for nonlinear=0.529</text>
<polygon points="482.6,222.1 483.4,227.3 484.1,232.4 484.9,237.4 485.6,242.2 486.4,246.8 487.1,251.2 487.9,255.3 488.6,259.1 489.4,262.7 490.1,266.0 490.9,269.1 491.6,271.9 492.4,274.5 493.1,276.8 493.9,279.0 494.6,281.0 495.4,282.8 496.1,284.5 496.9,286.0 497.6,287.4 498.4,288.7 499.1,289.9 499.9,291.0 500.6,292.1 501.4,293.0 502.1,293.9 502.9,294.7 503.6,295.5 504.4,296.3 505.1,296.9 505.9,297.6 506.6,298.2 507.4,298.8 508.1,299.4 508.9,299.9 509.0,300.0 509.8,299.3 510.5,298.7 511.2,298.1 512.0,297.4 512.8,296.8 513.5,296.2 514.2,295.6 515.0,295.0 515.8,294.4 516.5,293.8 517.2,293.2 518.0,292.7 518.8,292.1 519.5,291.6 520.2,291.1 521.0,290.5 521.8,290.1 522.5,289.6 523.2,289.1 524.0,288.7 524.8,288.3 525.5,287.9 526.2,287.5 527.0,287.1 527.8,286.8 528.5,286.5 529.2,286.2 530.0,285.9 530.8,285.6 531.5,285.4 532.2,285.2 533.0,285.0 533.8,284.9 534.5,284.7 535.2,284.6 536.0,284.5 536.8,284.4 537.5,284.4 538.2,284.3 539.0,284.3 539.8,284.3 540.5,284.4 541.2,284.4 542.0,284.5 542.8,284.6 543.5,284.7 544.2,284.8 545.0,285.0 545.8,285.2 546.5,285.3 547.2,285.6 548.0,285.8 548.8,286.0 549.5,286.3 550.2,286.6 551.0,286.9 551.8,287.2 552.5,287.5 553.2,287.8 554.0,288.2 554.8,288.6 555.5,289.0 556.2,289.3 557.0,289.7 557.8,290.2 558.5,290.6 559.2,291.0 560.0,291.5 560.8,291.9 561.5,292.4 562.2,292.8 563.0,293.3 563.8,293.8 564.5,294.3 565.2,294.7 566.0,295.2 566.8,295.7 567.5,296.2 568.2,296.7 569.0,297.2 569.8,297.7 570.5,298.2 571.2,298.6 572.0,299.1 572.8,299.6 573.5,300.1 574.2,300.6 575.0,301.1 575.8,301.5 576.5,302.0 577.2,302.5 578.0,302.9 578.8,303.4 579.5,303.8 580.2,304.3 581.0,304.7 581.8,305.2 582.5,305.6 583.2,306.0 584.0,306.5 584.8,306.9 585.5,307.3 586.2,307.7 587.0,308.1 587.8,308.5 588.5,308.9 589.2,309.2 590.0,309.6 590.8,309.9 591.5,310.3 592.2,310.6 593.0,310.9 593.8,311.3 594.5,311.6 595.2,311.9 596.0,312.2 596.8,312.4 597.5,312.7 598.2,313.0 599.0,313.2 599.8,313.5 600.5,313.7 601.2,314.0 602.0,314.2 602.8,314.4 603.5,314.7 604.2,314.9 605.0,315.1 605.8,315.3 606.5,315.5 607.2,315.7 608.0,315.8 608.8,316.0 609.5,316.2 610.2,316.4 611.0,316.5 611.8,316.7 612.5,316.8 613.2,317.0 614.0,317.1 614.8,317.3 615.5,317.4 616.2,317.6 617.0,317.7 617.8,317.8 618.5,318.0 619.2,318.1 620.0,318.2 620.8,318.3 621.5,318.4 622.2,318.6 623.0,318.7 623.8,318.8 624.5,318.9 625.2,319.0 626.0,319.1 626.8,319.2 627.5,319.3 628.2,319.4 629.0,319.5 629.8,319.6 630.5,319.6 631.2,319.7 632.0,319.8 632.8,319.9 633.5,320.0 634.2,320.0 635.0,320.1 635.8,320.2 636.5,320.3 637.2,320.3 638.0,320.4 638.8,320.5 639.5,320.5 640.2,320.6 641.0,320.6 641.8,320.7 642.5,320.8 643.2,320.8 644.0,320.9 644.8,320.9 645.5,321.0 646.2,321.0 647.0,321.1 647.8,321.1 648.5,321.1 649.2,321.2 650.0,321.2 650.8,321.3 651.5,321.3 652.2,321.3 653.0,321.4 653.8,321.4 654.5,321.4 655.2,321.5 656.0,321.5 656.8,321.5 657.5,321.6 658.2,321.6 659.0,321.6 659.8,321.7 660.5,321.7 661.2,321.7 662.0,321.7 662.8,321.8 663.5,321.8 663.8,321.8 663.8,359.2 663.5,359.2 662.8,359.1 662.0,359.0 661.2,358.9 660.5,358.8 659.8,358.7 659.0,358.6 658.2,358.5 657.5,358.4 656.8,358.4 656.0,358.3 655.2,358.2 654.5,358.1 653.8,358.0 653.0,357.9 652.2,357.8 651.5,357.7 650.8,357.6 650.0,357.5 649.2,357.4 648.5,357.3 647.8,357.2 647.0,357.1 646.2,357.0 645.5,357.0 644.8,356.9 644.0,356.8 643.2,356.7 642.5,356.6 641.8,356.5 641.0,356.3 640.2,356.2 639.5,356.1 638.8,356.0 638.0,355.9 637.2,355.8 636.5,355.7 635.8,355.6 635.0,355.5 634.2,355.4 633.5,355.3 632.8,355.1 632.0,355.0 631.2,354.9 630.5,354.8 629.8,354.7 629.0,354.5 628.2,354.4 627.5,354.3 626.8,354.1 626.0,354.0 625.2,353.8 624.5,353.7 623.8,353.5 623.0,353.4 622.2,353.2 621.5,353.1 620.8,352.9 620.0,352.7 619.2,352.5 618.5,352.4 617.8,352.2 617.0,352.0 616.2,351.8 615.5,351.6 614.8,351.4 614.0,351.2 613.2,351.0 612.5,350.7 611.8,350.5 611.0,350.3 610.2,350.0 609.5,349.8 608.8,349.5 608.0,349.3 607.2,349.0 606.5,348.7 605.8,348.5 605.0,348.2 604.2,347.9 603.5,347.6 602.8,347.3 602.0,347.0 601.2,346.7 600.5,346.4 599.8,346.1 599.0,345.7 598.2,345.4 597.5,345.1 596.8,344.7 596.0,344.4 595.2,344.1 594.5,343.7 593.8,343.4 593.0,343.0 592.2,342.7 591.5,342.3 590.8,342.0 590.0,341.6 589.2,341.3 588.5,340.9 587.8,340.6 587.0,340.2 586.2,339.9 585.5,339.5 584.8,339.2 584.0,338.8 583.2,338.5 582.5,338.2 581.8,337.8 581.0,337.5 580.2,337.1 579.5,336.8 578.8,336.5 578.0,336.1 577.2,335.8 576.5,335.5 575.8,335.2 575.0,334.8 574.2,334.5 573.5,334.2 572.8,333.9 572.0,333.6 571.2,333.2 570.5,332.9 569.8,332.6 569.0,332.3 568.2,332.0 567.5,331.7 566.8,331.4 566.0,331.1 565.2,330.8 564.5,330.5 563.8,330.2 563.0,329.9 562.2,329.6 561.5,329.3 560.8,329.0 560.0,328.7 559.2,328.4 558.5,328.1 557.8,327.8 557.0,327.5 556.2,327.1 555.5,326.8 554.8,326.5 554.0,326.2 553.2,325.9 552.5,325.6 551.8,325.3 551.0,325.0 550.2,324.7 549.5,324.4 548.8,324.1 548.0,323.8 547.2,323.4 546.5,323.1 545.8,322.8 545.0,322.5 544.2,322.1 543.5,321.8 542.8,321.5 542.0,321.1 541.2,320.8 540.5,320.4 539.8,320.1 539.0,319.7 538.2,319.4 537.5,319.0 536.8,318.7 536.0,318.3 535.2,317.9 534.5,317.5 533.8,317.1 533.0,316.7 532.2,316.3 531.5,315.9 530.8,315.5 530.0,315.1 529.2,314.6 528.5,314.2 527.8,313.7 527.0,313.3 526.2,312.8 525.5,312.3 524.8,311.9 524.0,311.4 523.2,310.9 522.5,310.3 521.8,309.8 521.0,309.3 520.2,308.8 519.5,308.2 518.8,307.7 518.0,307.1 517.2,306.6 516.5,306.0 515.8,305.4 515.0,304.8 514.2,304.3 513.5,303.7 512.8,303.1 512.0,302.5 511.2,301.9 510.5,301.3 509.8,300.7 509.0,300.0 508.9,300.0 508.1,300.1 507.4,300.3 506.6,300.4 505.9,300.5 505.1,300.7 504.4,300.8 503.6,300.9 502.9,301.1 502.1,301.2 501.4,301.4 500.6,301.6 499.9,301.8 499.1,301.9 498.4,302.1 497.6,302.3 496.9,302.5 496.1,302.7 495.4,302.9 494.6,303.0 493.9,303.2 493.1,303.4 492.4,303.6 491.6,303.8 490.9,304.0 490.1,304.2 489.4,304.4 488.6,304.5 487.9,304.7 487.1,304.9 486.4,305.1 485.6,305.3 484.9,305.5 484.1,305.7 483.4,305.9 482.6,306.1" fill="#fdece4"/>
<polyline points="482.8,274.1 483.6,275.3 484.3,276.4 485.1,277.5 485.8,278.7 486.6,279.8 487.3,280.9 488.1,281.9 488.8,283.0 489.6,284.0 490.3,285.0 491.1,285.9 491.8,286.9 492.6,287.7 493.3,288.6 494.1,289.4 494.8,290.3 495.6,291.0 496.3,291.8 497.1,292.5 497.8,293.2 498.6,293.9 499.3,294.5 500.1,295.1 500.8,295.7 501.6,296.2 502.3,296.7 503.1,297.2 503.8,297.6 504.6,298.0 505.3,298.4 506.1,298.8 506.8,299.1 507.6,299.3 508.3,299.6 509.0,299.7 509.8,299.9 510.5,300.0 511.2,300.1 512.0,300.1 512.8,300.2 513.5,300.2 514.2,300.3 515.0,300.3 515.8,300.4 516.5,300.4 517.2,300.5 518.0,300.5 518.8,300.6 519.5,300.7 520.2,300.7 521.0,300.8 521.8,300.9 522.5,301.0 523.2,301.1 524.0,301.2 524.8,301.3 525.5,301.5 526.2,301.6 527.0,301.7 527.8,301.9 528.5,302.0 529.2,302.2 530.0,302.3 530.8,302.5 531.5,302.7 532.2,302.9 533.0,303.1 533.8,303.3 534.5,303.5 535.2,303.7 536.0,304.0 536.8,304.2 537.5,304.5 538.2,304.7 539.0,305.0 539.8,305.3 540.5,305.5 541.2,305.8 542.0,306.1 542.8,306.4 543.5,306.7 544.2,307.0 545.0,307.4 545.8,307.7 546.5,308.0 547.2,308.4 548.0,308.7 548.8,309.1 549.5,309.4 550.2,309.8 551.0,310.1 551.8,310.5 552.5,310.9 553.2,311.2 554.0,311.6 554.8,312.0 555.5,312.4 556.2,312.8 557.0,313.1 557.8,313.5 558.5,313.9 559.2,314.3 560.0,314.7 560.8,315.1 561.5,315.5 562.2,315.9 563.0,316.3 563.8,316.7 564.5,317.0 565.2,317.4 566.0,317.8 566.8,318.2 567.5,318.6 568.2,319.0 569.0,319.4 569.8,319.7 570.5,320.1 571.2,320.5 572.0,320.9 572.8,321.3 573.5,321.6 574.2,322.0 575.0,322.4 575.8,322.7 576.5,323.1 577.2,323.5 578.0,323.8 578.8,324.2 579.5,324.5 580.2,324.9 581.0,325.2 581.8,325.6 582.5,326.0 583.2,326.3 584.0,326.7 584.8,327.0 585.5,327.3 586.2,327.7 587.0,328.0 587.8,328.4 588.5,328.7 589.2,329.0 590.0,329.4 590.8,329.7 591.5,330.0 592.2,330.4 593.0,330.7 593.8,331.0 594.5,331.3 595.2,331.6 596.0,332.0 596.8,332.3 597.5,332.6 598.2,332.9 599.0,333.2 599.8,333.5 600.5,333.8 601.2,334.1 602.0,334.4 602.8,334.7 603.5,335.0 604.2,335.3 605.0,335.6 605.8,335.9 606.5,336.1 607.2,336.4 608.0,336.7 608.8,337.0 609.5,337.2 610.2,337.5 611.0,337.8 611.8,338.1 612.5,338.3 613.2,338.6 614.0,338.8 614.8,339.1 615.5,339.4 616.2,339.6 617.0,339.9 617.8,340.1 618.5,340.3 619.2,340.6 620.0,340.8 620.8,341.1 621.5,341.3 622.2,341.5 623.0,341.8 623.8,342.0 624.5,342.2 625.2,342.4 626.0,342.7 626.8,342.9 627.5,343.1 628.2,343.3 629.0,343.5 629.8,343.7 630.5,343.9 631.2,344.1 632.0,344.3 632.8,344.5 633.5,344.7 634.2,344.9 635.0,345.1 635.8,345.2 636.5,345.4 637.2,345.6 638.0,345.8 638.8,346.0 639.5,346.1 640.2,346.3 641.0,346.5 641.8,346.6 642.5,346.8 643.2,347.0 644.0,347.1 644.8,347.3 645.5,347.5 646.2,347.6 647.0,347.8 647.8,347.9 648.5,348.1 649.2,348.2 650.0,348.4 650.8,348.5 651.5,348.7 652.2,348.9 653.0,349.0 653.8,349.2 654.5,349.3 655.2,349.4 656.0,349.6 656.8,349.7 657.5,349.9 658.2,350.0 659.0,350.2 659.8,350.3 660.5,350.5 661.2,350.6 662.0,350.8 662.8,350.9 663.5,351.0 663.8,351.1" fill="none" stroke="#d77c5e" stroke-width="1.25" stroke-linejoin="round"/>
<path d="M473.7,213.2 V367.3 H672.6" fill="none" stroke="#706a66" stroke-width="1.45"/>
<line x1="472.09999999999997" y1="364.6" x2="473.7" y2="364.6" stroke="#706a66" stroke-width="0.9"/>
<text class="san" transform="translate(470.70,366.30) scale(0.25)" text-anchor="end" font-size="19.2" fill="#3a3a3a" stroke="#3a3a3a" stroke-width="0.7">0.0</text>
<line x1="472.09999999999997" y1="332.3" x2="473.7" y2="332.3" stroke="#706a66" stroke-width="0.9"/>
<text class="san" transform="translate(470.70,334.00) scale(0.25)" text-anchor="end" font-size="19.2" fill="#3a3a3a" stroke="#3a3a3a" stroke-width="0.7">0.5</text>
<line x1="472.09999999999997" y1="300.0" x2="473.7" y2="300.0" stroke="#706a66" stroke-width="0.9"/>
<text class="san" transform="translate(470.70,301.70) scale(0.25)" text-anchor="end" font-size="19.2" fill="#3a3a3a" stroke="#3a3a3a" stroke-width="0.7">1.0</text>
<line x1="472.09999999999997" y1="267.7" x2="473.7" y2="267.7" stroke="#706a66" stroke-width="0.9"/>
<text class="san" transform="translate(470.70,269.40) scale(0.25)" text-anchor="end" font-size="19.2" fill="#3a3a3a" stroke="#3a3a3a" stroke-width="0.7">1.5</text>
<line x1="472.09999999999997" y1="235.4" x2="473.7" y2="235.4" stroke="#706a66" stroke-width="0.9"/>
<text class="san" transform="translate(470.70,237.10) scale(0.25)" text-anchor="end" font-size="19.2" fill="#3a3a3a" stroke="#3a3a3a" stroke-width="0.7">2.0</text>
<line x1="482.6" y1="367.3" x2="482.6" y2="368.90000000000003" stroke="#706a66" stroke-width="0.9"/>
<text class="san" transform="translate(482.60,373.70) scale(0.25)" text-anchor="middle" font-size="19.2" fill="#3a3a3a" stroke="#3a3a3a" stroke-width="0.7">0</text>
<line x1="537.9" y1="367.3" x2="537.9" y2="368.90000000000003" stroke="#706a66" stroke-width="0.9"/>
<text class="san" transform="translate(537.90,373.70) scale(0.25)" text-anchor="middle" font-size="19.2" fill="#3a3a3a" stroke="#3a3a3a" stroke-width="0.7">5000</text>
<line x1="593.1" y1="367.3" x2="593.1" y2="368.90000000000003" stroke="#706a66" stroke-width="0.9"/>
<text class="san" transform="translate(593.10,373.70) scale(0.25)" text-anchor="middle" font-size="19.2" fill="#3a3a3a" stroke="#3a3a3a" stroke-width="0.7">10000</text>
<line x1="648.4" y1="367.3" x2="648.4" y2="368.90000000000003" stroke="#706a66" stroke-width="0.9"/>
<text class="san" transform="translate(648.40,373.70) scale(0.25)" text-anchor="middle" font-size="19.2" fill="#3a3a3a" stroke="#3a3a3a" stroke-width="0.7">15000</text>
<line x1="473.7" y1="300.0" x2="672.6" y2="300.0" stroke="#1c1c1c" stroke-width="1.5" stroke-dasharray="5.0 4.42"/>
<line x1="509.0" y1="367.3" x2="509.0" y2="212.7" stroke="#1c1c1c" stroke-width="1.5" stroke-dasharray="5.0 4.38"/>
<text class="san" x="573.15" y="381.0" text-anchor="middle" font-size="6.2" fill="#1a1a1a" stroke="#1a1a1a" stroke-width="0.2">TPA</text>
<text class="san" transform="translate(461.2,290.25) rotate(-90)" text-anchor="middle" font-size="6.0" fill="#1a1a1a" stroke="#1a1a1a" stroke-width="0.15">OR (95%CI)</text>
<text class="ser" x="458.3" y="211.5" font-size="16" fill="#1a1a1a">f</text>
<text class="ser" x="542.8" y="237.6" font-size="13.7" fill="#222" stroke="#222" stroke-width="0.12">P for overall=0.003</text>
<text class="ser" x="542.8" y="253.8" font-size="13.7" fill="#222" stroke="#222" stroke-width="0.12">P for nonlinear=0.511</text>
</g></svg>
</body></html>
